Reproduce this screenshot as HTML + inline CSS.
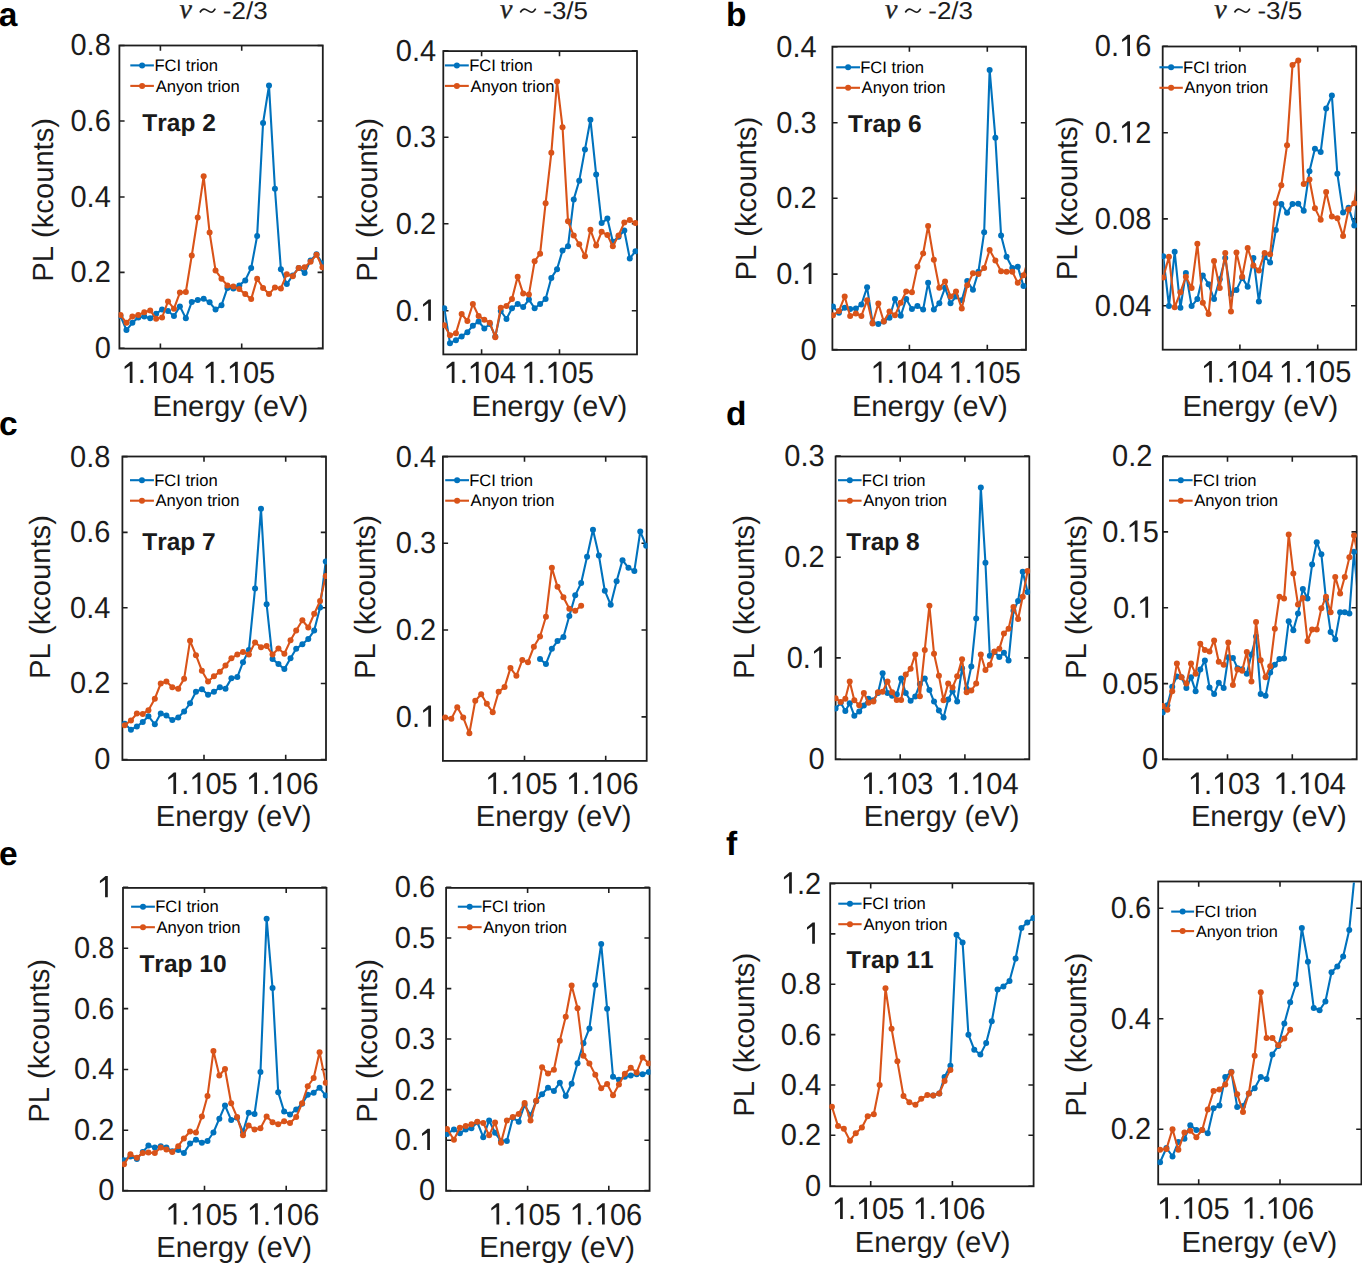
<!DOCTYPE html>
<html><head><meta charset="utf-8"><style>
html,body{margin:0;padding:0;background:#fff;}
svg{display:block;}
text{font-family:"Liberation Sans",sans-serif;fill:#1c1c1c;text-rendering:geometricPrecision;font-kerning:none;}
</style></head><body>
<svg width="1362" height="1264" viewBox="0 0 1362 1264">
<rect width="1362" height="1264" fill="#fff"/>
<clipPath id="caL"><rect x="120.3" y="46.4" width="201.6" height="301.3"/></clipPath>
<clipPath id="mcaL"><rect x="118.5" y="44.6" width="205.2" height="304.9"/></clipPath>
<rect x="119.4" y="45.5" width="203.4" height="303.1" fill="none" stroke="#1e1e1e" stroke-width="1.8"/>
<path d="M119.4 45.5h5.2M322.8 45.5h-5.2" stroke="#1e1e1e" stroke-width="1.6"/>
<text transform="translate(70.45 55.4) scale(1 1.045)" font-size="29">0.8</text>
<path d="M119.4 121h5.2M322.8 121h-5.2" stroke="#1e1e1e" stroke-width="1.6"/>
<text transform="translate(70.45 130.9) scale(1 1.045)" font-size="29">0.6</text>
<path d="M119.4 197h5.2M322.8 197h-5.2" stroke="#1e1e1e" stroke-width="1.6"/>
<text transform="translate(70.45 206.9) scale(1 1.045)" font-size="29">0.4</text>
<path d="M119.4 272.4h5.2M322.8 272.4h-5.2" stroke="#1e1e1e" stroke-width="1.6"/>
<text transform="translate(70.45 282.3) scale(1 1.045)" font-size="29">0.2</text>
<path d="M119.4 348.3h5.2M322.8 348.3h-5.2" stroke="#1e1e1e" stroke-width="1.6"/>
<text transform="translate(94.63 358.2) scale(1 1.045)" font-size="29">0</text>
<path d="M160.4 348.6v-5.2M160.4 45.5v5.2" stroke="#1e1e1e" stroke-width="1.6"/>
<path d="M241.7 348.6v-5.2M241.7 45.5v5.2" stroke="#1e1e1e" stroke-width="1.6"/>
<text transform="translate(121.5 383.1) scale(1 1.045)" font-size="29"> . 04</text><path transform="translate(121.5 383.1) scale(29 -30.305)" d="M0.285 0L0.379 0L0.379 0.703L0.3 0.703L0.107 0.545L0.107 0.463L0.285 0.575Z" style="fill:#1c1c1c"/><path transform="translate(145.68 383.1) scale(29 -30.305)" d="M0.285 0L0.379 0L0.379 0.703L0.3 0.703L0.107 0.545L0.107 0.463L0.285 0.575Z" style="fill:#1c1c1c"/>
<text transform="translate(202.6 383.1) scale(1 1.045)" font-size="29"> . 05</text><path transform="translate(202.6 383.1) scale(29 -30.305)" d="M0.285 0L0.379 0L0.379 0.703L0.3 0.703L0.107 0.545L0.107 0.463L0.285 0.575Z" style="fill:#1c1c1c"/><path transform="translate(226.78 383.1) scale(29 -30.305)" d="M0.285 0L0.379 0L0.379 0.703L0.3 0.703L0.107 0.545L0.107 0.463L0.285 0.575Z" style="fill:#1c1c1c"/>
<polyline clip-path="url(#caL)" points="120.5,316 126.44,330.1 132.38,322.8 138.32,317.4 144.26,316.4 150.2,318.3 156.14,313.7 162.08,309.6 168.02,311 173.96,316 179.9,306.4 185.84,318.3 191.78,301.9 197.72,300.1 203.66,298.7 209.6,302.3 215.54,309.6 221.48,305.3 227.42,287.9 233.36,288.4 239.3,285.4 245.24,280.4 251.18,268 257.12,236.1 263.06,123 269,85.6 274.94,188.7 280.88,269.2 286.82,284.1 292.76,275.4 298.7,268 304.64,272.9 310.58,260.5 316.52,254.3 322.46,263.5" fill="none" stroke="#0072BD" stroke-width="2.1" stroke-linejoin="round"/>
<g clip-path="url(#mcaL)"><circle cx="120.5" cy="316" r="3.0" fill="#0072BD"/><circle cx="126.44" cy="330.1" r="3.0" fill="#0072BD"/><circle cx="132.38" cy="322.8" r="3.0" fill="#0072BD"/><circle cx="138.32" cy="317.4" r="3.0" fill="#0072BD"/><circle cx="144.26" cy="316.4" r="3.0" fill="#0072BD"/><circle cx="150.2" cy="318.3" r="3.0" fill="#0072BD"/><circle cx="156.14" cy="313.7" r="3.0" fill="#0072BD"/><circle cx="162.08" cy="309.6" r="3.0" fill="#0072BD"/><circle cx="168.02" cy="311" r="3.0" fill="#0072BD"/><circle cx="173.96" cy="316" r="3.0" fill="#0072BD"/><circle cx="179.9" cy="306.4" r="3.0" fill="#0072BD"/><circle cx="185.84" cy="318.3" r="3.0" fill="#0072BD"/><circle cx="191.78" cy="301.9" r="3.0" fill="#0072BD"/><circle cx="197.72" cy="300.1" r="3.0" fill="#0072BD"/><circle cx="203.66" cy="298.7" r="3.0" fill="#0072BD"/><circle cx="209.6" cy="302.3" r="3.0" fill="#0072BD"/><circle cx="215.54" cy="309.6" r="3.0" fill="#0072BD"/><circle cx="221.48" cy="305.3" r="3.0" fill="#0072BD"/><circle cx="227.42" cy="287.9" r="3.0" fill="#0072BD"/><circle cx="233.36" cy="288.4" r="3.0" fill="#0072BD"/><circle cx="239.3" cy="285.4" r="3.0" fill="#0072BD"/><circle cx="245.24" cy="280.4" r="3.0" fill="#0072BD"/><circle cx="251.18" cy="268" r="3.0" fill="#0072BD"/><circle cx="257.12" cy="236.1" r="3.0" fill="#0072BD"/><circle cx="263.06" cy="123" r="3.0" fill="#0072BD"/><circle cx="269" cy="85.6" r="3.0" fill="#0072BD"/><circle cx="274.94" cy="188.7" r="3.0" fill="#0072BD"/><circle cx="280.88" cy="269.2" r="3.0" fill="#0072BD"/><circle cx="286.82" cy="284.1" r="3.0" fill="#0072BD"/><circle cx="292.76" cy="275.4" r="3.0" fill="#0072BD"/><circle cx="298.7" cy="268" r="3.0" fill="#0072BD"/><circle cx="304.64" cy="272.9" r="3.0" fill="#0072BD"/><circle cx="310.58" cy="260.5" r="3.0" fill="#0072BD"/><circle cx="316.52" cy="254.3" r="3.0" fill="#0072BD"/><circle cx="322.46" cy="263.5" r="3.0" fill="#0072BD"/></g>
<polyline clip-path="url(#caL)" points="120.5,315.1 126.44,322.8 132.38,316.4 138.32,315.1 144.26,312.3 150.2,310.5 156.14,318.7 162.08,317.5 168.02,301.4 173.96,308.7 179.9,292.6 185.84,291.9 191.78,255.5 197.72,217.4 203.66,176.3 209.6,232.6 215.54,270.4 221.48,278.7 227.42,285.4 233.36,286.6 239.3,289.1 245.24,294.1 251.18,299.1 257.12,278.7 263.06,287.9 269,294.1 274.94,287.4 280.88,288.4 286.82,274.2 292.76,276.2 298.7,268 304.64,267.2 310.58,261.7 316.52,254.7 322.46,267.2" fill="none" stroke="#D95319" stroke-width="2.1" stroke-linejoin="round"/>
<g clip-path="url(#mcaL)"><circle cx="120.5" cy="315.1" r="3.0" fill="#D95319"/><circle cx="126.44" cy="322.8" r="3.0" fill="#D95319"/><circle cx="132.38" cy="316.4" r="3.0" fill="#D95319"/><circle cx="138.32" cy="315.1" r="3.0" fill="#D95319"/><circle cx="144.26" cy="312.3" r="3.0" fill="#D95319"/><circle cx="150.2" cy="310.5" r="3.0" fill="#D95319"/><circle cx="156.14" cy="318.7" r="3.0" fill="#D95319"/><circle cx="162.08" cy="317.5" r="3.0" fill="#D95319"/><circle cx="168.02" cy="301.4" r="3.0" fill="#D95319"/><circle cx="173.96" cy="308.7" r="3.0" fill="#D95319"/><circle cx="179.9" cy="292.6" r="3.0" fill="#D95319"/><circle cx="185.84" cy="291.9" r="3.0" fill="#D95319"/><circle cx="191.78" cy="255.5" r="3.0" fill="#D95319"/><circle cx="197.72" cy="217.4" r="3.0" fill="#D95319"/><circle cx="203.66" cy="176.3" r="3.0" fill="#D95319"/><circle cx="209.6" cy="232.6" r="3.0" fill="#D95319"/><circle cx="215.54" cy="270.4" r="3.0" fill="#D95319"/><circle cx="221.48" cy="278.7" r="3.0" fill="#D95319"/><circle cx="227.42" cy="285.4" r="3.0" fill="#D95319"/><circle cx="233.36" cy="286.6" r="3.0" fill="#D95319"/><circle cx="239.3" cy="289.1" r="3.0" fill="#D95319"/><circle cx="245.24" cy="294.1" r="3.0" fill="#D95319"/><circle cx="251.18" cy="299.1" r="3.0" fill="#D95319"/><circle cx="257.12" cy="278.7" r="3.0" fill="#D95319"/><circle cx="263.06" cy="287.9" r="3.0" fill="#D95319"/><circle cx="269" cy="294.1" r="3.0" fill="#D95319"/><circle cx="274.94" cy="287.4" r="3.0" fill="#D95319"/><circle cx="280.88" cy="288.4" r="3.0" fill="#D95319"/><circle cx="286.82" cy="274.2" r="3.0" fill="#D95319"/><circle cx="292.76" cy="276.2" r="3.0" fill="#D95319"/><circle cx="298.7" cy="268" r="3.0" fill="#D95319"/><circle cx="304.64" cy="267.2" r="3.0" fill="#D95319"/><circle cx="310.58" cy="261.7" r="3.0" fill="#D95319"/><circle cx="316.52" cy="254.7" r="3.0" fill="#D95319"/><circle cx="322.46" cy="267.2" r="3.0" fill="#D95319"/></g>
<line x1="130.3" y1="65.4" x2="153.9" y2="65.4" stroke="#0072BD" stroke-width="2.1"/>
<circle cx="142.1" cy="65.4" r="3.0" fill="#0072BD"/>
<text x="154.44" y="71" font-size="16.6" fill="#000" style="fill:#000">FCI trion</text>
<line x1="130.3" y1="85.9" x2="153.9" y2="85.9" stroke="#D95319" stroke-width="2.1"/>
<circle cx="142.1" cy="85.9" r="3.0" fill="#D95319"/>
<text x="155.77" y="91.5" font-size="16.6" fill="#000" style="fill:#000">Anyon trion</text>
<text x="142.32" y="130.6" font-size="24.5" font-weight="bold" style="fill:#1a1a1a">Trap 2</text>
<text transform="translate(152.4 415.5) scale(1 1.0)" font-size="29.2">Energy (eV)</text>
<text transform="translate(52.5 281.8) rotate(-90) scale(1 1.0)" font-size="29.2">PL (kcounts)</text>
<clipPath id="caR"><rect x="444.2" y="52" width="191.9" height="301.5"/></clipPath>
<clipPath id="mcaR"><rect x="442.4" y="50.2" width="195.5" height="305.1"/></clipPath>
<rect x="443.3" y="51.1" width="193.7" height="303.3" fill="none" stroke="#1e1e1e" stroke-width="1.8"/>
<path d="M443.3 50.7h5.2M637 50.7h-5.2" stroke="#1e1e1e" stroke-width="1.6"/>
<text transform="translate(395.75 60.6) scale(1 1.045)" font-size="29">0.4</text>
<path d="M443.3 137.2h5.2M637 137.2h-5.2" stroke="#1e1e1e" stroke-width="1.6"/>
<text transform="translate(395.75 147.1) scale(1 1.045)" font-size="29">0.3</text>
<path d="M443.3 223.8h5.2M637 223.8h-5.2" stroke="#1e1e1e" stroke-width="1.6"/>
<text transform="translate(395.75 233.7) scale(1 1.045)" font-size="29">0.2</text>
<path d="M443.3 310.8h5.2M637 310.8h-5.2" stroke="#1e1e1e" stroke-width="1.6"/>
<text transform="translate(395.75 320.7) scale(1 1.045)" font-size="29">0. </text><path transform="translate(419.93 320.7) scale(29 -30.305)" d="M0.285 0L0.379 0L0.379 0.703L0.3 0.703L0.107 0.545L0.107 0.463L0.285 0.575Z" style="fill:#1c1c1c"/>
<path d="M481.6 354.4v-5.2M481.6 51.1v5.2" stroke="#1e1e1e" stroke-width="1.6"/>
<path d="M559.5 354.4v-5.2M559.5 51.1v5.2" stroke="#1e1e1e" stroke-width="1.6"/>
<text transform="translate(443.5 383.1) scale(1 1.045)" font-size="29"> . 04</text><path transform="translate(443.5 383.1) scale(29 -30.305)" d="M0.285 0L0.379 0L0.379 0.703L0.3 0.703L0.107 0.545L0.107 0.463L0.285 0.575Z" style="fill:#1c1c1c"/><path transform="translate(467.68 383.1) scale(29 -30.305)" d="M0.285 0L0.379 0L0.379 0.703L0.3 0.703L0.107 0.545L0.107 0.463L0.285 0.575Z" style="fill:#1c1c1c"/>
<text transform="translate(521.3 383.1) scale(1 1.045)" font-size="29"> . 05</text><path transform="translate(521.3 383.1) scale(29 -30.305)" d="M0.285 0L0.379 0L0.379 0.703L0.3 0.703L0.107 0.545L0.107 0.463L0.285 0.575Z" style="fill:#1c1c1c"/><path transform="translate(545.48 383.1) scale(29 -30.305)" d="M0.285 0L0.379 0L0.379 0.703L0.3 0.703L0.107 0.545L0.107 0.463L0.285 0.575Z" style="fill:#1c1c1c"/>
<polyline clip-path="url(#caR)" points="444.23,308.26 449.96,343.13 455.93,340.14 461.66,336.41 467.39,332.17 472.87,325.7 478.6,321.46 484.33,328.44 489.81,323.95 495.29,336.41 500.76,311 506.49,318.97 511.97,308.26 517.7,304.03 523.18,307.02 528.91,299.55 534.64,308.26 540.12,304.03 545.6,299.05 551.33,277.88 557.05,269.16 562.53,250.48 568.01,246.25 573.74,199.42 579.22,180.74 584.95,149.61 590.43,119.72 596.16,174.51 601.64,223.08 607.36,218.6 612.84,241.76 618.57,236.78 624.3,230.55 629.78,258.45 635.51,251.23" fill="none" stroke="#0072BD" stroke-width="2.1" stroke-linejoin="round"/>
<g clip-path="url(#mcaR)"><circle cx="444.23" cy="308.26" r="3.0" fill="#0072BD"/><circle cx="449.96" cy="343.13" r="3.0" fill="#0072BD"/><circle cx="455.93" cy="340.14" r="3.0" fill="#0072BD"/><circle cx="461.66" cy="336.41" r="3.0" fill="#0072BD"/><circle cx="467.39" cy="332.17" r="3.0" fill="#0072BD"/><circle cx="472.87" cy="325.7" r="3.0" fill="#0072BD"/><circle cx="478.6" cy="321.46" r="3.0" fill="#0072BD"/><circle cx="484.33" cy="328.44" r="3.0" fill="#0072BD"/><circle cx="489.81" cy="323.95" r="3.0" fill="#0072BD"/><circle cx="495.29" cy="336.41" r="3.0" fill="#0072BD"/><circle cx="500.76" cy="311" r="3.0" fill="#0072BD"/><circle cx="506.49" cy="318.97" r="3.0" fill="#0072BD"/><circle cx="511.97" cy="308.26" r="3.0" fill="#0072BD"/><circle cx="517.7" cy="304.03" r="3.0" fill="#0072BD"/><circle cx="523.18" cy="307.02" r="3.0" fill="#0072BD"/><circle cx="528.91" cy="299.55" r="3.0" fill="#0072BD"/><circle cx="534.64" cy="308.26" r="3.0" fill="#0072BD"/><circle cx="540.12" cy="304.03" r="3.0" fill="#0072BD"/><circle cx="545.6" cy="299.05" r="3.0" fill="#0072BD"/><circle cx="551.33" cy="277.88" r="3.0" fill="#0072BD"/><circle cx="557.05" cy="269.16" r="3.0" fill="#0072BD"/><circle cx="562.53" cy="250.48" r="3.0" fill="#0072BD"/><circle cx="568.01" cy="246.25" r="3.0" fill="#0072BD"/><circle cx="573.74" cy="199.42" r="3.0" fill="#0072BD"/><circle cx="579.22" cy="180.74" r="3.0" fill="#0072BD"/><circle cx="584.95" cy="149.61" r="3.0" fill="#0072BD"/><circle cx="590.43" cy="119.72" r="3.0" fill="#0072BD"/><circle cx="596.16" cy="174.51" r="3.0" fill="#0072BD"/><circle cx="601.64" cy="223.08" r="3.0" fill="#0072BD"/><circle cx="607.36" cy="218.6" r="3.0" fill="#0072BD"/><circle cx="612.84" cy="241.76" r="3.0" fill="#0072BD"/><circle cx="618.57" cy="236.78" r="3.0" fill="#0072BD"/><circle cx="624.3" cy="230.55" r="3.0" fill="#0072BD"/><circle cx="629.78" cy="258.45" r="3.0" fill="#0072BD"/><circle cx="635.51" cy="251.23" r="3.0" fill="#0072BD"/></g>
<polyline clip-path="url(#caR)" points="444.23,325.2 449.96,335.16 455.93,333.17 461.66,313.99 467.39,320.97 472.87,304.03 478.6,315.98 484.33,319.72 489.81,322.71 495.29,337.15 500.76,307.76 506.49,306.02 511.97,299.05 517.7,276.63 523.18,293.57 528.91,294.56 534.64,261.19 540.12,253.72 545.6,203.16 551.33,152.85 557.05,81.61 562.53,127.19 568.01,221.34 573.74,235.54 579.22,244.25 584.95,256.21 590.43,229.81 596.16,245.5 601.64,231.8 607.36,235.04 612.84,246.25 618.57,235.54 624.3,222.58 629.78,220.09 635.51,223.08" fill="none" stroke="#D95319" stroke-width="2.1" stroke-linejoin="round"/>
<g clip-path="url(#mcaR)"><circle cx="444.23" cy="325.2" r="3.0" fill="#D95319"/><circle cx="449.96" cy="335.16" r="3.0" fill="#D95319"/><circle cx="455.93" cy="333.17" r="3.0" fill="#D95319"/><circle cx="461.66" cy="313.99" r="3.0" fill="#D95319"/><circle cx="467.39" cy="320.97" r="3.0" fill="#D95319"/><circle cx="472.87" cy="304.03" r="3.0" fill="#D95319"/><circle cx="478.6" cy="315.98" r="3.0" fill="#D95319"/><circle cx="484.33" cy="319.72" r="3.0" fill="#D95319"/><circle cx="489.81" cy="322.71" r="3.0" fill="#D95319"/><circle cx="495.29" cy="337.15" r="3.0" fill="#D95319"/><circle cx="500.76" cy="307.76" r="3.0" fill="#D95319"/><circle cx="506.49" cy="306.02" r="3.0" fill="#D95319"/><circle cx="511.97" cy="299.05" r="3.0" fill="#D95319"/><circle cx="517.7" cy="276.63" r="3.0" fill="#D95319"/><circle cx="523.18" cy="293.57" r="3.0" fill="#D95319"/><circle cx="528.91" cy="294.56" r="3.0" fill="#D95319"/><circle cx="534.64" cy="261.19" r="3.0" fill="#D95319"/><circle cx="540.12" cy="253.72" r="3.0" fill="#D95319"/><circle cx="545.6" cy="203.16" r="3.0" fill="#D95319"/><circle cx="551.33" cy="152.85" r="3.0" fill="#D95319"/><circle cx="557.05" cy="81.61" r="3.0" fill="#D95319"/><circle cx="562.53" cy="127.19" r="3.0" fill="#D95319"/><circle cx="568.01" cy="221.34" r="3.0" fill="#D95319"/><circle cx="573.74" cy="235.54" r="3.0" fill="#D95319"/><circle cx="579.22" cy="244.25" r="3.0" fill="#D95319"/><circle cx="584.95" cy="256.21" r="3.0" fill="#D95319"/><circle cx="590.43" cy="229.81" r="3.0" fill="#D95319"/><circle cx="596.16" cy="245.5" r="3.0" fill="#D95319"/><circle cx="601.64" cy="231.8" r="3.0" fill="#D95319"/><circle cx="607.36" cy="235.04" r="3.0" fill="#D95319"/><circle cx="612.84" cy="246.25" r="3.0" fill="#D95319"/><circle cx="618.57" cy="235.54" r="3.0" fill="#D95319"/><circle cx="624.3" cy="222.58" r="3.0" fill="#D95319"/><circle cx="629.78" cy="220.09" r="3.0" fill="#D95319"/><circle cx="635.51" cy="223.08" r="3.0" fill="#D95319"/></g>
<line x1="444.9" y1="65.4" x2="468.8" y2="65.4" stroke="#0072BD" stroke-width="2.1"/>
<circle cx="456.85" cy="65.4" r="3.0" fill="#0072BD"/>
<text x="469.14" y="71" font-size="16.6" fill="#000" style="fill:#000">FCI trion</text>
<line x1="444.9" y1="85.9" x2="468.8" y2="85.9" stroke="#D95319" stroke-width="2.1"/>
<circle cx="456.85" cy="85.9" r="3.0" fill="#D95319"/>
<text x="470.47" y="91.5" font-size="16.6" fill="#000" style="fill:#000">Anyon trion</text>
<text transform="translate(471.6 416.2) scale(1 1.0)" font-size="29.2">Energy (eV)</text>
<text transform="translate(377.4 281.8) rotate(-90) scale(1 1.0)" font-size="29.2">PL (kcounts)</text>
<clipPath id="cbL"><rect x="833.3" y="47.5" width="191.8" height="301.5"/></clipPath>
<clipPath id="mcbL"><rect x="831.5" y="45.7" width="195.4" height="305.1"/></clipPath>
<rect x="832.4" y="46.6" width="193.6" height="303.3" fill="none" stroke="#1e1e1e" stroke-width="1.8"/>
<path d="M832.4 46.7h5.2M1026 46.7h-5.2" stroke="#1e1e1e" stroke-width="1.6"/>
<text transform="translate(776.25 56.6) scale(1 1.045)" font-size="29">0.4</text>
<path d="M832.4 122.7h5.2M1026 122.7h-5.2" stroke="#1e1e1e" stroke-width="1.6"/>
<text transform="translate(776.25 132.6) scale(1 1.045)" font-size="29">0.3</text>
<path d="M832.4 198.2h5.2M1026 198.2h-5.2" stroke="#1e1e1e" stroke-width="1.6"/>
<text transform="translate(776.25 208.1) scale(1 1.045)" font-size="29">0.2</text>
<path d="M832.4 274.1h5.2M1026 274.1h-5.2" stroke="#1e1e1e" stroke-width="1.6"/>
<text transform="translate(776.25 284) scale(1 1.045)" font-size="29">0. </text><path transform="translate(800.43 284) scale(29 -30.305)" d="M0.285 0L0.379 0L0.379 0.703L0.3 0.703L0.107 0.545L0.107 0.463L0.285 0.575Z" style="fill:#1c1c1c"/>
<path d="M832.4 349.6h5.2M1026 349.6h-5.2" stroke="#1e1e1e" stroke-width="1.6"/>
<text transform="translate(800.43 359.5) scale(1 1.045)" font-size="29">0</text>
<path d="M909.4 349.9v-5.2M909.4 46.6v5.2" stroke="#1e1e1e" stroke-width="1.6"/>
<path d="M987.3 349.9v-5.2M987.3 46.6v5.2" stroke="#1e1e1e" stroke-width="1.6"/>
<text transform="translate(870.5 382.8) scale(1 1.045)" font-size="29"> . 04</text><path transform="translate(870.5 382.8) scale(29 -30.305)" d="M0.285 0L0.379 0L0.379 0.703L0.3 0.703L0.107 0.545L0.107 0.463L0.285 0.575Z" style="fill:#1c1c1c"/><path transform="translate(894.68 382.8) scale(29 -30.305)" d="M0.285 0L0.379 0L0.379 0.703L0.3 0.703L0.107 0.545L0.107 0.463L0.285 0.575Z" style="fill:#1c1c1c"/>
<text transform="translate(948.3 382.8) scale(1 1.045)" font-size="29"> . 05</text><path transform="translate(948.3 382.8) scale(29 -30.305)" d="M0.285 0L0.379 0L0.379 0.703L0.3 0.703L0.107 0.545L0.107 0.463L0.285 0.575Z" style="fill:#1c1c1c"/><path transform="translate(972.48 382.8) scale(29 -30.305)" d="M0.285 0L0.379 0L0.379 0.703L0.3 0.703L0.107 0.545L0.107 0.463L0.285 0.575Z" style="fill:#1c1c1c"/>
<polyline clip-path="url(#cbL)" points="832.97,306.5 838.95,312.73 844.68,307.75 850.16,308.99 855.89,308.49 861.37,304.51 867.1,287.32 872.58,322.69 878.3,323.94 883.78,321.44 889.51,317.71 894.99,299.03 900.72,315.72 906.2,299.03 911.93,308.99 917.41,306 923.14,309.49 928.12,282.84 933.85,309.49 939.33,303.26 945.05,287.82 950.53,303.26 956.01,296.54 961.74,300.27 967.22,281.1 972.95,289.81 978.43,271.63 984.16,232.28 989.64,69.89 995.36,137.63 1001.09,235.52 1006.57,256.69 1012.3,267.9 1017.78,266.65 1023.51,286.08" fill="none" stroke="#0072BD" stroke-width="2.1" stroke-linejoin="round"/>
<g clip-path="url(#mcbL)"><circle cx="832.97" cy="306.5" r="3.0" fill="#0072BD"/><circle cx="838.95" cy="312.73" r="3.0" fill="#0072BD"/><circle cx="844.68" cy="307.75" r="3.0" fill="#0072BD"/><circle cx="850.16" cy="308.99" r="3.0" fill="#0072BD"/><circle cx="855.89" cy="308.49" r="3.0" fill="#0072BD"/><circle cx="861.37" cy="304.51" r="3.0" fill="#0072BD"/><circle cx="867.1" cy="287.32" r="3.0" fill="#0072BD"/><circle cx="872.58" cy="322.69" r="3.0" fill="#0072BD"/><circle cx="878.3" cy="323.94" r="3.0" fill="#0072BD"/><circle cx="883.78" cy="321.44" r="3.0" fill="#0072BD"/><circle cx="889.51" cy="317.71" r="3.0" fill="#0072BD"/><circle cx="894.99" cy="299.03" r="3.0" fill="#0072BD"/><circle cx="900.72" cy="315.72" r="3.0" fill="#0072BD"/><circle cx="906.2" cy="299.03" r="3.0" fill="#0072BD"/><circle cx="911.93" cy="308.99" r="3.0" fill="#0072BD"/><circle cx="917.41" cy="306" r="3.0" fill="#0072BD"/><circle cx="923.14" cy="309.49" r="3.0" fill="#0072BD"/><circle cx="928.12" cy="282.84" r="3.0" fill="#0072BD"/><circle cx="933.85" cy="309.49" r="3.0" fill="#0072BD"/><circle cx="939.33" cy="303.26" r="3.0" fill="#0072BD"/><circle cx="945.05" cy="287.82" r="3.0" fill="#0072BD"/><circle cx="950.53" cy="303.26" r="3.0" fill="#0072BD"/><circle cx="956.01" cy="296.54" r="3.0" fill="#0072BD"/><circle cx="961.74" cy="300.27" r="3.0" fill="#0072BD"/><circle cx="967.22" cy="281.1" r="3.0" fill="#0072BD"/><circle cx="972.95" cy="289.81" r="3.0" fill="#0072BD"/><circle cx="978.43" cy="271.63" r="3.0" fill="#0072BD"/><circle cx="984.16" cy="232.28" r="3.0" fill="#0072BD"/><circle cx="989.64" cy="69.89" r="3.0" fill="#0072BD"/><circle cx="995.36" cy="137.63" r="3.0" fill="#0072BD"/><circle cx="1001.09" cy="235.52" r="3.0" fill="#0072BD"/><circle cx="1006.57" cy="256.69" r="3.0" fill="#0072BD"/><circle cx="1012.3" cy="267.9" r="3.0" fill="#0072BD"/><circle cx="1017.78" cy="266.65" r="3.0" fill="#0072BD"/><circle cx="1023.51" cy="286.08" r="3.0" fill="#0072BD"/></g>
<polyline clip-path="url(#cbL)" points="832.97,315.22 838.95,310.98 844.68,296.54 850.16,315.97 855.89,313.47 861.37,315.97 867.1,300.27 872.58,323.44 878.3,303.51 883.78,321.44 889.51,311.48 894.99,315.22 900.72,302.76 906.2,291.56 911.93,292.3 917.41,266.65 923.14,253.45 928.12,226.05 933.85,259.68 939.33,287.82 945.05,281.59 950.53,296.54 956.01,291.56 961.74,308.49 967.22,285.33 972.95,273.37 978.43,274.12 984.16,267.9 989.64,249.96 995.36,260.42 1001.09,271.13 1006.57,271.63 1012.3,271.63 1017.78,282.84 1023.51,275.37 1029.11,256.69" fill="none" stroke="#D95319" stroke-width="2.1" stroke-linejoin="round"/>
<g clip-path="url(#mcbL)"><circle cx="832.97" cy="315.22" r="3.0" fill="#D95319"/><circle cx="838.95" cy="310.98" r="3.0" fill="#D95319"/><circle cx="844.68" cy="296.54" r="3.0" fill="#D95319"/><circle cx="850.16" cy="315.97" r="3.0" fill="#D95319"/><circle cx="855.89" cy="313.47" r="3.0" fill="#D95319"/><circle cx="861.37" cy="315.97" r="3.0" fill="#D95319"/><circle cx="867.1" cy="300.27" r="3.0" fill="#D95319"/><circle cx="872.58" cy="323.44" r="3.0" fill="#D95319"/><circle cx="878.3" cy="303.51" r="3.0" fill="#D95319"/><circle cx="883.78" cy="321.44" r="3.0" fill="#D95319"/><circle cx="889.51" cy="311.48" r="3.0" fill="#D95319"/><circle cx="894.99" cy="315.22" r="3.0" fill="#D95319"/><circle cx="900.72" cy="302.76" r="3.0" fill="#D95319"/><circle cx="906.2" cy="291.56" r="3.0" fill="#D95319"/><circle cx="911.93" cy="292.3" r="3.0" fill="#D95319"/><circle cx="917.41" cy="266.65" r="3.0" fill="#D95319"/><circle cx="923.14" cy="253.45" r="3.0" fill="#D95319"/><circle cx="928.12" cy="226.05" r="3.0" fill="#D95319"/><circle cx="933.85" cy="259.68" r="3.0" fill="#D95319"/><circle cx="939.33" cy="287.82" r="3.0" fill="#D95319"/><circle cx="945.05" cy="281.59" r="3.0" fill="#D95319"/><circle cx="950.53" cy="296.54" r="3.0" fill="#D95319"/><circle cx="956.01" cy="291.56" r="3.0" fill="#D95319"/><circle cx="961.74" cy="308.49" r="3.0" fill="#D95319"/><circle cx="967.22" cy="285.33" r="3.0" fill="#D95319"/><circle cx="972.95" cy="273.37" r="3.0" fill="#D95319"/><circle cx="978.43" cy="274.12" r="3.0" fill="#D95319"/><circle cx="984.16" cy="267.9" r="3.0" fill="#D95319"/><circle cx="989.64" cy="249.96" r="3.0" fill="#D95319"/><circle cx="995.36" cy="260.42" r="3.0" fill="#D95319"/><circle cx="1001.09" cy="271.13" r="3.0" fill="#D95319"/><circle cx="1006.57" cy="271.63" r="3.0" fill="#D95319"/><circle cx="1012.3" cy="271.63" r="3.0" fill="#D95319"/><circle cx="1017.78" cy="282.84" r="3.0" fill="#D95319"/><circle cx="1023.51" cy="275.37" r="3.0" fill="#D95319"/></g>
<line x1="836.2" y1="67.3" x2="860" y2="67.3" stroke="#0072BD" stroke-width="2.1"/>
<circle cx="848.1" cy="67.3" r="3.0" fill="#0072BD"/>
<text x="860.24" y="72.9" font-size="16.6" fill="#000" style="fill:#000">FCI trion</text>
<line x1="836.2" y1="87.8" x2="860" y2="87.8" stroke="#D95319" stroke-width="2.1"/>
<circle cx="848.1" cy="87.8" r="3.0" fill="#D95319"/>
<text x="861.57" y="93.4" font-size="16.6" fill="#000" style="fill:#000">Anyon trion</text>
<text x="848.02" y="131.5" font-size="24.5" font-weight="bold" style="fill:#1a1a1a">Trap 6</text>
<text transform="translate(851.9 415.8) scale(1 1.0)" font-size="29.2">Energy (eV)</text>
<text transform="translate(755.5 280.5) rotate(-90) scale(1 1.0)" font-size="29.2">PL (kcounts)</text>
<clipPath id="cbR"><rect x="1163.6" y="47.4" width="191.7" height="301.4"/></clipPath>
<clipPath id="mcbR"><rect x="1161.8" y="45.6" width="195.3" height="305"/></clipPath>
<rect x="1162.7" y="46.5" width="193.5" height="303.2" fill="none" stroke="#1e1e1e" stroke-width="1.8"/>
<path d="M1162.7 46.2h5.2M1356.2 46.2h-5.2" stroke="#1e1e1e" stroke-width="1.6"/>
<text transform="translate(1094.82 56.1) scale(1 1.045)" font-size="29">0. 6</text><path transform="translate(1119 56.1) scale(29 -30.305)" d="M0.285 0L0.379 0L0.379 0.703L0.3 0.703L0.107 0.545L0.107 0.463L0.285 0.575Z" style="fill:#1c1c1c"/>
<path d="M1162.7 132.7h5.2M1356.2 132.7h-5.2" stroke="#1e1e1e" stroke-width="1.6"/>
<text transform="translate(1094.82 142.6) scale(1 1.045)" font-size="29">0. 2</text><path transform="translate(1119 142.6) scale(29 -30.305)" d="M0.285 0L0.379 0L0.379 0.703L0.3 0.703L0.107 0.545L0.107 0.463L0.285 0.575Z" style="fill:#1c1c1c"/>
<path d="M1162.7 218.9h5.2M1356.2 218.9h-5.2" stroke="#1e1e1e" stroke-width="1.6"/>
<text transform="translate(1094.82 228.8) scale(1 1.045)" font-size="29">0.08</text>
<path d="M1162.7 305.8h5.2M1356.2 305.8h-5.2" stroke="#1e1e1e" stroke-width="1.6"/>
<text transform="translate(1094.82 315.7) scale(1 1.045)" font-size="29">0.04</text>
<path d="M1239.9 349.7v-5.2M1239.9 46.5v5.2" stroke="#1e1e1e" stroke-width="1.6"/>
<path d="M1317.7 349.7v-5.2M1317.7 46.5v5.2" stroke="#1e1e1e" stroke-width="1.6"/>
<text transform="translate(1200.9 382.4) scale(1 1.045)" font-size="29"> . 04</text><path transform="translate(1200.9 382.4) scale(29 -30.305)" d="M0.285 0L0.379 0L0.379 0.703L0.3 0.703L0.107 0.545L0.107 0.463L0.285 0.575Z" style="fill:#1c1c1c"/><path transform="translate(1225.08 382.4) scale(29 -30.305)" d="M0.285 0L0.379 0L0.379 0.703L0.3 0.703L0.107 0.545L0.107 0.463L0.285 0.575Z" style="fill:#1c1c1c"/>
<text transform="translate(1278.8 382.4) scale(1 1.045)" font-size="29"> . 05</text><path transform="translate(1278.8 382.4) scale(29 -30.305)" d="M0.285 0L0.379 0L0.379 0.703L0.3 0.703L0.107 0.545L0.107 0.463L0.285 0.575Z" style="fill:#1c1c1c"/><path transform="translate(1302.98 382.4) scale(29 -30.305)" d="M0.285 0L0.379 0L0.379 0.703L0.3 0.703L0.107 0.545L0.107 0.463L0.285 0.575Z" style="fill:#1c1c1c"/>
<polyline clip-path="url(#cbR)" points="1163.22,256.24 1168.95,306.07 1174.68,251.76 1180.41,307.81 1185.89,272.93 1191.62,306.07 1197.35,299.09 1202.83,275.43 1208.56,284.15 1214.04,299.09 1219.77,279.16 1225.25,257.99 1230.98,294.11 1236.46,289.88 1242.19,277.92 1247.68,286.64 1253.41,257.99 1258.89,301.58 1264.62,256.74 1270.1,262.47 1275.83,230.08 1281.31,203.93 1287.04,212.65 1292.52,203.93 1298.25,203.68 1303.73,210.65 1309.46,171.29 1314.94,148.87 1320.67,152.11 1326.15,108.51 1331.88,95.56 1337.36,173.78 1343.09,212.4 1348.57,207.66 1354.3,225.6 1359.71,171.99" fill="none" stroke="#0072BD" stroke-width="2.1" stroke-linejoin="round"/>
<g clip-path="url(#mcbR)"><circle cx="1163.22" cy="256.24" r="3.0" fill="#0072BD"/><circle cx="1168.95" cy="306.07" r="3.0" fill="#0072BD"/><circle cx="1174.68" cy="251.76" r="3.0" fill="#0072BD"/><circle cx="1180.41" cy="307.81" r="3.0" fill="#0072BD"/><circle cx="1185.89" cy="272.93" r="3.0" fill="#0072BD"/><circle cx="1191.62" cy="306.07" r="3.0" fill="#0072BD"/><circle cx="1197.35" cy="299.09" r="3.0" fill="#0072BD"/><circle cx="1202.83" cy="275.43" r="3.0" fill="#0072BD"/><circle cx="1208.56" cy="284.15" r="3.0" fill="#0072BD"/><circle cx="1214.04" cy="299.09" r="3.0" fill="#0072BD"/><circle cx="1219.77" cy="279.16" r="3.0" fill="#0072BD"/><circle cx="1225.25" cy="257.99" r="3.0" fill="#0072BD"/><circle cx="1230.98" cy="294.11" r="3.0" fill="#0072BD"/><circle cx="1236.46" cy="289.88" r="3.0" fill="#0072BD"/><circle cx="1242.19" cy="277.92" r="3.0" fill="#0072BD"/><circle cx="1247.68" cy="286.64" r="3.0" fill="#0072BD"/><circle cx="1253.41" cy="257.99" r="3.0" fill="#0072BD"/><circle cx="1258.89" cy="301.58" r="3.0" fill="#0072BD"/><circle cx="1264.62" cy="256.74" r="3.0" fill="#0072BD"/><circle cx="1270.1" cy="262.47" r="3.0" fill="#0072BD"/><circle cx="1275.83" cy="230.08" r="3.0" fill="#0072BD"/><circle cx="1281.31" cy="203.93" r="3.0" fill="#0072BD"/><circle cx="1287.04" cy="212.65" r="3.0" fill="#0072BD"/><circle cx="1292.52" cy="203.93" r="3.0" fill="#0072BD"/><circle cx="1298.25" cy="203.68" r="3.0" fill="#0072BD"/><circle cx="1303.73" cy="210.65" r="3.0" fill="#0072BD"/><circle cx="1309.46" cy="171.29" r="3.0" fill="#0072BD"/><circle cx="1314.94" cy="148.87" r="3.0" fill="#0072BD"/><circle cx="1320.67" cy="152.11" r="3.0" fill="#0072BD"/><circle cx="1326.15" cy="108.51" r="3.0" fill="#0072BD"/><circle cx="1331.88" cy="95.56" r="3.0" fill="#0072BD"/><circle cx="1337.36" cy="173.78" r="3.0" fill="#0072BD"/><circle cx="1343.09" cy="212.4" r="3.0" fill="#0072BD"/><circle cx="1348.57" cy="207.66" r="3.0" fill="#0072BD"/><circle cx="1354.3" cy="225.6" r="3.0" fill="#0072BD"/></g>
<polyline clip-path="url(#cbR)" points="1163.22,277.42 1168.95,256.74 1174.68,307.31 1180.41,292.37 1185.89,276.67 1191.62,287.88 1197.35,243.79 1202.83,302.83 1208.56,314.04 1214.04,260.98 1219.77,287.88 1225.25,253 1230.98,311.55 1236.46,252.51 1242.19,276.67 1247.68,248.02 1253.41,265.46 1258.89,270.44 1264.62,253 1270.1,254.25 1275.83,203.18 1281.31,185.24 1287.04,145.13 1292.52,64.91 1298.25,60.43 1303.73,184 1309.46,179.51 1314.94,208.16 1320.67,219.87 1326.15,191.97 1331.88,216.38 1337.36,218.13 1343.09,236.06 1348.57,209.41 1354.3,203.18 1359.41,165.01" fill="none" stroke="#D95319" stroke-width="2.1" stroke-linejoin="round"/>
<g clip-path="url(#mcbR)"><circle cx="1163.22" cy="277.42" r="3.0" fill="#D95319"/><circle cx="1168.95" cy="256.74" r="3.0" fill="#D95319"/><circle cx="1174.68" cy="307.31" r="3.0" fill="#D95319"/><circle cx="1180.41" cy="292.37" r="3.0" fill="#D95319"/><circle cx="1185.89" cy="276.67" r="3.0" fill="#D95319"/><circle cx="1191.62" cy="287.88" r="3.0" fill="#D95319"/><circle cx="1197.35" cy="243.79" r="3.0" fill="#D95319"/><circle cx="1202.83" cy="302.83" r="3.0" fill="#D95319"/><circle cx="1208.56" cy="314.04" r="3.0" fill="#D95319"/><circle cx="1214.04" cy="260.98" r="3.0" fill="#D95319"/><circle cx="1219.77" cy="287.88" r="3.0" fill="#D95319"/><circle cx="1225.25" cy="253" r="3.0" fill="#D95319"/><circle cx="1230.98" cy="311.55" r="3.0" fill="#D95319"/><circle cx="1236.46" cy="252.51" r="3.0" fill="#D95319"/><circle cx="1242.19" cy="276.67" r="3.0" fill="#D95319"/><circle cx="1247.68" cy="248.02" r="3.0" fill="#D95319"/><circle cx="1253.41" cy="265.46" r="3.0" fill="#D95319"/><circle cx="1258.89" cy="270.44" r="3.0" fill="#D95319"/><circle cx="1264.62" cy="253" r="3.0" fill="#D95319"/><circle cx="1270.1" cy="254.25" r="3.0" fill="#D95319"/><circle cx="1275.83" cy="203.18" r="3.0" fill="#D95319"/><circle cx="1281.31" cy="185.24" r="3.0" fill="#D95319"/><circle cx="1287.04" cy="145.13" r="3.0" fill="#D95319"/><circle cx="1292.52" cy="64.91" r="3.0" fill="#D95319"/><circle cx="1298.25" cy="60.43" r="3.0" fill="#D95319"/><circle cx="1303.73" cy="184" r="3.0" fill="#D95319"/><circle cx="1309.46" cy="179.51" r="3.0" fill="#D95319"/><circle cx="1314.94" cy="208.16" r="3.0" fill="#D95319"/><circle cx="1320.67" cy="219.87" r="3.0" fill="#D95319"/><circle cx="1326.15" cy="191.97" r="3.0" fill="#D95319"/><circle cx="1331.88" cy="216.38" r="3.0" fill="#D95319"/><circle cx="1337.36" cy="218.13" r="3.0" fill="#D95319"/><circle cx="1343.09" cy="236.06" r="3.0" fill="#D95319"/><circle cx="1348.57" cy="209.41" r="3.0" fill="#D95319"/><circle cx="1354.3" cy="203.18" r="3.0" fill="#D95319"/></g>
<line x1="1159.4" y1="67.3" x2="1182.8" y2="67.3" stroke="#0072BD" stroke-width="2.1"/>
<circle cx="1171.1" cy="67.3" r="3.0" fill="#0072BD"/>
<text x="1183.04" y="72.9" font-size="16.6" fill="#000" style="fill:#000">FCI trion</text>
<line x1="1159.4" y1="87.8" x2="1182.8" y2="87.8" stroke="#D95319" stroke-width="2.1"/>
<circle cx="1171.1" cy="87.8" r="3.0" fill="#D95319"/>
<text x="1184.37" y="93.4" font-size="16.6" fill="#000" style="fill:#000">Anyon trion</text>
<text transform="translate(1182.4 415.8) scale(1 1.0)" font-size="29.2">Energy (eV)</text>
<text transform="translate(1076.7 280.3) rotate(-90) scale(1 1.0)" font-size="29.2">PL (kcounts)</text>
<clipPath id="ccL"><rect x="123.3" y="457.4" width="201.8" height="301.7"/></clipPath>
<clipPath id="mccL"><rect x="121.5" y="455.6" width="205.4" height="305.3"/></clipPath>
<rect x="122.4" y="456.5" width="203.6" height="303.5" fill="none" stroke="#1e1e1e" stroke-width="1.8"/>
<path d="M122.4 456.6h5.2M326 456.6h-5.2" stroke="#1e1e1e" stroke-width="1.6"/>
<text transform="translate(70.05 466.5) scale(1 1.045)" font-size="29">0.8</text>
<path d="M122.4 532.4h5.2M326 532.4h-5.2" stroke="#1e1e1e" stroke-width="1.6"/>
<text transform="translate(70.05 542.3) scale(1 1.045)" font-size="29">0.6</text>
<path d="M122.4 607.7h5.2M326 607.7h-5.2" stroke="#1e1e1e" stroke-width="1.6"/>
<text transform="translate(70.05 617.6) scale(1 1.045)" font-size="29">0.4</text>
<path d="M122.4 683.5h5.2M326 683.5h-5.2" stroke="#1e1e1e" stroke-width="1.6"/>
<text transform="translate(70.05 693.4) scale(1 1.045)" font-size="29">0.2</text>
<path d="M122.4 759.5h5.2M326 759.5h-5.2" stroke="#1e1e1e" stroke-width="1.6"/>
<text transform="translate(94.23 769.4) scale(1 1.045)" font-size="29">0</text>
<path d="M204 760v-5.2M204 456.5v5.2" stroke="#1e1e1e" stroke-width="1.6"/>
<path d="M285.7 760v-5.2M285.7 456.5v5.2" stroke="#1e1e1e" stroke-width="1.6"/>
<text transform="translate(165.1 793.9) scale(1 1.045)" font-size="29"> . 05</text><path transform="translate(165.1 793.9) scale(29 -30.305)" d="M0.285 0L0.379 0L0.379 0.703L0.3 0.703L0.107 0.545L0.107 0.463L0.285 0.575Z" style="fill:#1c1c1c"/><path transform="translate(189.28 793.9) scale(29 -30.305)" d="M0.285 0L0.379 0L0.379 0.703L0.3 0.703L0.107 0.545L0.107 0.463L0.285 0.575Z" style="fill:#1c1c1c"/>
<text transform="translate(246 793.9) scale(1 1.045)" font-size="29"> . 06</text><path transform="translate(246 793.9) scale(29 -30.305)" d="M0.285 0L0.379 0L0.379 0.703L0.3 0.703L0.107 0.545L0.107 0.463L0.285 0.575Z" style="fill:#1c1c1c"/><path transform="translate(270.18 793.9) scale(29 -30.305)" d="M0.285 0L0.379 0L0.379 0.703L0.3 0.703L0.107 0.545L0.107 0.463L0.285 0.575Z" style="fill:#1c1c1c"/>
<polyline clip-path="url(#ccL)" points="124.77,723.85 130.93,729.76 136.85,726.42 142.76,722.05 148.41,716.14 154.84,724.36 160.75,713.57 166.4,715.62 172.31,719.99 178.22,717.42 184.13,711.51 190.04,703.29 195.96,691.72 201.87,689.15 208.04,694.81 213.95,691.72 219.86,687.35 225.51,688.64 231.42,678.36 237.33,677.07 242.99,662.17 248.9,650.09 255.07,588.41 260.98,508.74 266.63,604.34 272.54,659.08 278.45,663.97 284.37,669.11 290.53,658.31 296.19,648.8 302.36,644.18 308.27,639.04 314.18,630.56 320.09,607.43 325.74,561.42" fill="none" stroke="#0072BD" stroke-width="2.1" stroke-linejoin="round"/>
<g clip-path="url(#mccL)"><circle cx="124.77" cy="723.85" r="3.0" fill="#0072BD"/><circle cx="130.93" cy="729.76" r="3.0" fill="#0072BD"/><circle cx="136.85" cy="726.42" r="3.0" fill="#0072BD"/><circle cx="142.76" cy="722.05" r="3.0" fill="#0072BD"/><circle cx="148.41" cy="716.14" r="3.0" fill="#0072BD"/><circle cx="154.84" cy="724.36" r="3.0" fill="#0072BD"/><circle cx="160.75" cy="713.57" r="3.0" fill="#0072BD"/><circle cx="166.4" cy="715.62" r="3.0" fill="#0072BD"/><circle cx="172.31" cy="719.99" r="3.0" fill="#0072BD"/><circle cx="178.22" cy="717.42" r="3.0" fill="#0072BD"/><circle cx="184.13" cy="711.51" r="3.0" fill="#0072BD"/><circle cx="190.04" cy="703.29" r="3.0" fill="#0072BD"/><circle cx="195.96" cy="691.72" r="3.0" fill="#0072BD"/><circle cx="201.87" cy="689.15" r="3.0" fill="#0072BD"/><circle cx="208.04" cy="694.81" r="3.0" fill="#0072BD"/><circle cx="213.95" cy="691.72" r="3.0" fill="#0072BD"/><circle cx="219.86" cy="687.35" r="3.0" fill="#0072BD"/><circle cx="225.51" cy="688.64" r="3.0" fill="#0072BD"/><circle cx="231.42" cy="678.36" r="3.0" fill="#0072BD"/><circle cx="237.33" cy="677.07" r="3.0" fill="#0072BD"/><circle cx="242.99" cy="662.17" r="3.0" fill="#0072BD"/><circle cx="248.9" cy="650.09" r="3.0" fill="#0072BD"/><circle cx="255.07" cy="588.41" r="3.0" fill="#0072BD"/><circle cx="260.98" cy="508.74" r="3.0" fill="#0072BD"/><circle cx="266.63" cy="604.34" r="3.0" fill="#0072BD"/><circle cx="272.54" cy="659.08" r="3.0" fill="#0072BD"/><circle cx="278.45" cy="663.97" r="3.0" fill="#0072BD"/><circle cx="284.37" cy="669.11" r="3.0" fill="#0072BD"/><circle cx="290.53" cy="658.31" r="3.0" fill="#0072BD"/><circle cx="296.19" cy="648.8" r="3.0" fill="#0072BD"/><circle cx="302.36" cy="644.18" r="3.0" fill="#0072BD"/><circle cx="308.27" cy="639.04" r="3.0" fill="#0072BD"/><circle cx="314.18" cy="630.56" r="3.0" fill="#0072BD"/><circle cx="320.09" cy="607.43" r="3.0" fill="#0072BD"/><circle cx="325.74" cy="561.42" r="3.0" fill="#0072BD"/></g>
<polyline clip-path="url(#ccL)" points="124.77,725.13 130.93,720.51 136.85,713.57 142.76,714.08 148.41,710.23 154.84,698.66 160.75,683.5 166.4,681.44 172.31,687.35 178.22,688.64 184.13,678.87 190.04,640.84 195.96,655.23 201.87,670.65 208.04,681.44 213.95,676.3 219.86,671.68 225.51,665.51 231.42,658.31 237.33,654.46 242.99,651.89 248.9,654.46 255.07,642.38 260.98,647.26 266.63,645.98 272.54,654.46 278.45,648.55 284.37,653.69 290.53,640.32 296.19,630.56 302.36,620.28 308.27,627.47 314.18,613.85 320.09,601 325.74,576.07" fill="none" stroke="#D95319" stroke-width="2.1" stroke-linejoin="round"/>
<g clip-path="url(#mccL)"><circle cx="124.77" cy="725.13" r="3.0" fill="#D95319"/><circle cx="130.93" cy="720.51" r="3.0" fill="#D95319"/><circle cx="136.85" cy="713.57" r="3.0" fill="#D95319"/><circle cx="142.76" cy="714.08" r="3.0" fill="#D95319"/><circle cx="148.41" cy="710.23" r="3.0" fill="#D95319"/><circle cx="154.84" cy="698.66" r="3.0" fill="#D95319"/><circle cx="160.75" cy="683.5" r="3.0" fill="#D95319"/><circle cx="166.4" cy="681.44" r="3.0" fill="#D95319"/><circle cx="172.31" cy="687.35" r="3.0" fill="#D95319"/><circle cx="178.22" cy="688.64" r="3.0" fill="#D95319"/><circle cx="184.13" cy="678.87" r="3.0" fill="#D95319"/><circle cx="190.04" cy="640.84" r="3.0" fill="#D95319"/><circle cx="195.96" cy="655.23" r="3.0" fill="#D95319"/><circle cx="201.87" cy="670.65" r="3.0" fill="#D95319"/><circle cx="208.04" cy="681.44" r="3.0" fill="#D95319"/><circle cx="213.95" cy="676.3" r="3.0" fill="#D95319"/><circle cx="219.86" cy="671.68" r="3.0" fill="#D95319"/><circle cx="225.51" cy="665.51" r="3.0" fill="#D95319"/><circle cx="231.42" cy="658.31" r="3.0" fill="#D95319"/><circle cx="237.33" cy="654.46" r="3.0" fill="#D95319"/><circle cx="242.99" cy="651.89" r="3.0" fill="#D95319"/><circle cx="248.9" cy="654.46" r="3.0" fill="#D95319"/><circle cx="255.07" cy="642.38" r="3.0" fill="#D95319"/><circle cx="260.98" cy="647.26" r="3.0" fill="#D95319"/><circle cx="266.63" cy="645.98" r="3.0" fill="#D95319"/><circle cx="272.54" cy="654.46" r="3.0" fill="#D95319"/><circle cx="278.45" cy="648.55" r="3.0" fill="#D95319"/><circle cx="284.37" cy="653.69" r="3.0" fill="#D95319"/><circle cx="290.53" cy="640.32" r="3.0" fill="#D95319"/><circle cx="296.19" cy="630.56" r="3.0" fill="#D95319"/><circle cx="302.36" cy="620.28" r="3.0" fill="#D95319"/><circle cx="308.27" cy="627.47" r="3.0" fill="#D95319"/><circle cx="314.18" cy="613.85" r="3.0" fill="#D95319"/><circle cx="320.09" cy="601" r="3.0" fill="#D95319"/><circle cx="325.74" cy="576.07" r="3.0" fill="#D95319"/></g>
<line x1="130" y1="480.2" x2="153.9" y2="480.2" stroke="#0072BD" stroke-width="2.1"/>
<circle cx="141.95" cy="480.2" r="3.0" fill="#0072BD"/>
<text x="154.14" y="485.8" font-size="16.6" fill="#000" style="fill:#000">FCI trion</text>
<line x1="130" y1="500.7" x2="153.9" y2="500.7" stroke="#D95319" stroke-width="2.1"/>
<circle cx="141.95" cy="500.7" r="3.0" fill="#D95319"/>
<text x="155.47" y="506.3" font-size="16.6" fill="#000" style="fill:#000">Anyon trion</text>
<text x="142.22" y="549.5" font-size="24.5" font-weight="bold" style="fill:#1a1a1a">Trap 7</text>
<text transform="translate(155.8 825.8) scale(1 1.0)" font-size="29.2">Energy (eV)</text>
<text transform="translate(49.7 678.9) rotate(-90) scale(1 1.0)" font-size="29.2">PL (kcounts)</text>
<clipPath id="ccR"><rect x="443.8" y="457.4" width="202" height="302.6"/></clipPath>
<clipPath id="mccR"><rect x="442" y="455.6" width="205.6" height="306.2"/></clipPath>
<rect x="442.9" y="456.5" width="203.8" height="304.4" fill="none" stroke="#1e1e1e" stroke-width="1.8"/>
<path d="M442.9 456.6h5.2M646.7 456.6h-5.2" stroke="#1e1e1e" stroke-width="1.6"/>
<text transform="translate(395.85 466.5) scale(1 1.045)" font-size="29">0.4</text>
<path d="M442.9 543.2h5.2M646.7 543.2h-5.2" stroke="#1e1e1e" stroke-width="1.6"/>
<text transform="translate(395.85 553.1) scale(1 1.045)" font-size="29">0.3</text>
<path d="M442.9 630h5.2M646.7 630h-5.2" stroke="#1e1e1e" stroke-width="1.6"/>
<text transform="translate(395.85 639.9) scale(1 1.045)" font-size="29">0.2</text>
<path d="M442.9 716.9h5.2M646.7 716.9h-5.2" stroke="#1e1e1e" stroke-width="1.6"/>
<text transform="translate(395.85 726.8) scale(1 1.045)" font-size="29">0. </text><path transform="translate(420.03 726.8) scale(29 -30.305)" d="M0.285 0L0.379 0L0.379 0.703L0.3 0.703L0.107 0.545L0.107 0.463L0.285 0.575Z" style="fill:#1c1c1c"/>
<path d="M524.5 760.9v-5.2M524.5 456.5v5.2" stroke="#1e1e1e" stroke-width="1.6"/>
<path d="M605.7 760.9v-5.2M605.7 456.5v5.2" stroke="#1e1e1e" stroke-width="1.6"/>
<text transform="translate(485.1 793.9) scale(1 1.045)" font-size="29"> . 05</text><path transform="translate(485.1 793.9) scale(29 -30.305)" d="M0.285 0L0.379 0L0.379 0.703L0.3 0.703L0.107 0.545L0.107 0.463L0.285 0.575Z" style="fill:#1c1c1c"/><path transform="translate(509.28 793.9) scale(29 -30.305)" d="M0.285 0L0.379 0L0.379 0.703L0.3 0.703L0.107 0.545L0.107 0.463L0.285 0.575Z" style="fill:#1c1c1c"/>
<text transform="translate(566 793.9) scale(1 1.045)" font-size="29"> . 06</text><path transform="translate(566 793.9) scale(29 -30.305)" d="M0.285 0L0.379 0L0.379 0.703L0.3 0.703L0.107 0.545L0.107 0.463L0.285 0.575Z" style="fill:#1c1c1c"/><path transform="translate(590.18 793.9) scale(29 -30.305)" d="M0.285 0L0.379 0L0.379 0.703L0.3 0.703L0.107 0.545L0.107 0.463L0.285 0.575Z" style="fill:#1c1c1c"/>
<polyline clip-path="url(#ccR)" points="540.03,659.08 545.94,663.97 551.85,648.8 557.51,641.09 563.42,636.98 569.33,615.91 575.24,595.35 581.15,583.01 587.06,556.8 592.97,529.81 598.88,555.51 604.8,590.72 610.71,604.86 616.62,581.21 622.53,560.14 628.44,567.85 634.35,570.93 640.26,531.61 646.17,545.75" fill="none" stroke="#0072BD" stroke-width="2.1" stroke-linejoin="round"/>
<g clip-path="url(#mccR)"><circle cx="540.03" cy="659.08" r="3.0" fill="#0072BD"/><circle cx="545.94" cy="663.97" r="3.0" fill="#0072BD"/><circle cx="551.85" cy="648.8" r="3.0" fill="#0072BD"/><circle cx="557.51" cy="641.09" r="3.0" fill="#0072BD"/><circle cx="563.42" cy="636.98" r="3.0" fill="#0072BD"/><circle cx="569.33" cy="615.91" r="3.0" fill="#0072BD"/><circle cx="575.24" cy="595.35" r="3.0" fill="#0072BD"/><circle cx="581.15" cy="583.01" r="3.0" fill="#0072BD"/><circle cx="587.06" cy="556.8" r="3.0" fill="#0072BD"/><circle cx="592.97" cy="529.81" r="3.0" fill="#0072BD"/><circle cx="598.88" cy="555.51" r="3.0" fill="#0072BD"/><circle cx="604.8" cy="590.72" r="3.0" fill="#0072BD"/><circle cx="610.71" cy="604.86" r="3.0" fill="#0072BD"/><circle cx="616.62" cy="581.21" r="3.0" fill="#0072BD"/><circle cx="622.53" cy="560.14" r="3.0" fill="#0072BD"/><circle cx="628.44" cy="567.85" r="3.0" fill="#0072BD"/><circle cx="634.35" cy="570.93" r="3.0" fill="#0072BD"/><circle cx="640.26" cy="531.61" r="3.0" fill="#0072BD"/><circle cx="646.17" cy="545.75" r="3.0" fill="#0072BD"/></g>
<polyline clip-path="url(#ccR)" points="445.2,717.42 451.36,718.71 457.28,707.14 463.19,717.42 469.35,733.36 475.27,700.72 481.18,694.29 486.83,703.8 492.74,712.28 498.65,691.72 504.56,687.1 510.47,668.08 516.39,675.79 522.3,660.11 527.95,662.17 533.86,646.75 540.03,636.47 545.94,616.68 551.85,567.85 557.51,586.87 563.42,597.15 569.33,608.71 575.24,610.77 581.15,605.63" fill="none" stroke="#D95319" stroke-width="2.1" stroke-linejoin="round"/>
<g clip-path="url(#mccR)"><circle cx="445.2" cy="717.42" r="3.0" fill="#D95319"/><circle cx="451.36" cy="718.71" r="3.0" fill="#D95319"/><circle cx="457.28" cy="707.14" r="3.0" fill="#D95319"/><circle cx="463.19" cy="717.42" r="3.0" fill="#D95319"/><circle cx="469.35" cy="733.36" r="3.0" fill="#D95319"/><circle cx="475.27" cy="700.72" r="3.0" fill="#D95319"/><circle cx="481.18" cy="694.29" r="3.0" fill="#D95319"/><circle cx="486.83" cy="703.8" r="3.0" fill="#D95319"/><circle cx="492.74" cy="712.28" r="3.0" fill="#D95319"/><circle cx="498.65" cy="691.72" r="3.0" fill="#D95319"/><circle cx="504.56" cy="687.1" r="3.0" fill="#D95319"/><circle cx="510.47" cy="668.08" r="3.0" fill="#D95319"/><circle cx="516.39" cy="675.79" r="3.0" fill="#D95319"/><circle cx="522.3" cy="660.11" r="3.0" fill="#D95319"/><circle cx="527.95" cy="662.17" r="3.0" fill="#D95319"/><circle cx="533.86" cy="646.75" r="3.0" fill="#D95319"/><circle cx="540.03" cy="636.47" r="3.0" fill="#D95319"/><circle cx="545.94" cy="616.68" r="3.0" fill="#D95319"/><circle cx="551.85" cy="567.85" r="3.0" fill="#D95319"/><circle cx="557.51" cy="586.87" r="3.0" fill="#D95319"/><circle cx="563.42" cy="597.15" r="3.0" fill="#D95319"/><circle cx="569.33" cy="608.71" r="3.0" fill="#D95319"/><circle cx="575.24" cy="610.77" r="3.0" fill="#D95319"/><circle cx="581.15" cy="605.63" r="3.0" fill="#D95319"/></g>
<line x1="445.2" y1="480.2" x2="469" y2="480.2" stroke="#0072BD" stroke-width="2.1"/>
<circle cx="457.1" cy="480.2" r="3.0" fill="#0072BD"/>
<text x="469.24" y="485.8" font-size="16.6" fill="#000" style="fill:#000">FCI trion</text>
<line x1="445.2" y1="500.7" x2="469" y2="500.7" stroke="#D95319" stroke-width="2.1"/>
<circle cx="457.1" cy="500.7" r="3.0" fill="#D95319"/>
<text x="470.57" y="506.3" font-size="16.6" fill="#000" style="fill:#000">Anyon trion</text>
<text transform="translate(475.8 825.8) scale(1 1.0)" font-size="29.2">Energy (eV)</text>
<text transform="translate(375.2 678.9) rotate(-90) scale(1 1.0)" font-size="29.2">PL (kcounts)</text>
<clipPath id="cdL"><rect x="836.5" y="457.4" width="191.9" height="301.1"/></clipPath>
<clipPath id="mcdL"><rect x="834.7" y="455.6" width="195.5" height="304.7"/></clipPath>
<rect x="835.6" y="456.5" width="193.7" height="302.9" fill="none" stroke="#1e1e1e" stroke-width="1.8"/>
<path d="M835.6 456h5.2M1029.3 456h-5.2" stroke="#1e1e1e" stroke-width="1.6"/>
<text transform="translate(784.25 465.9) scale(1 1.045)" font-size="29">0.3</text>
<path d="M835.6 557.3h5.2M1029.3 557.3h-5.2" stroke="#1e1e1e" stroke-width="1.6"/>
<text transform="translate(784.25 567.2) scale(1 1.045)" font-size="29">0.2</text>
<path d="M835.6 657.9h5.2M1029.3 657.9h-5.2" stroke="#1e1e1e" stroke-width="1.6"/>
<text transform="translate(786.72 667.8) scale(1 1.045)" font-size="29">0. </text><path transform="translate(810.91 667.8) scale(29 -30.305)" d="M0.285 0L0.379 0L0.379 0.703L0.3 0.703L0.107 0.545L0.107 0.463L0.285 0.575Z" style="fill:#1c1c1c"/>
<path d="M835.6 759.2h5.2M1029.3 759.2h-5.2" stroke="#1e1e1e" stroke-width="1.6"/>
<text transform="translate(808.43 769.1) scale(1 1.045)" font-size="29">0</text>
<path d="M900.2 759.4v-5.2M900.2 456.5v5.2" stroke="#1e1e1e" stroke-width="1.6"/>
<path d="M964.9 759.4v-5.2M964.9 456.5v5.2" stroke="#1e1e1e" stroke-width="1.6"/>
<text transform="translate(860.9 793.9) scale(1 1.045)" font-size="29"> . 03</text><path transform="translate(860.9 793.9) scale(29 -30.305)" d="M0.285 0L0.379 0L0.379 0.703L0.3 0.703L0.107 0.545L0.107 0.463L0.285 0.575Z" style="fill:#1c1c1c"/><path transform="translate(885.08 793.9) scale(29 -30.305)" d="M0.285 0L0.379 0L0.379 0.703L0.3 0.703L0.107 0.545L0.107 0.463L0.285 0.575Z" style="fill:#1c1c1c"/>
<text transform="translate(946 793.9) scale(1 1.045)" font-size="29"> . 04</text><path transform="translate(946 793.9) scale(29 -30.305)" d="M0.285 0L0.379 0L0.379 0.703L0.3 0.703L0.107 0.545L0.107 0.463L0.285 0.575Z" style="fill:#1c1c1c"/><path transform="translate(970.18 793.9) scale(29 -30.305)" d="M0.285 0L0.379 0L0.379 0.703L0.3 0.703L0.107 0.545L0.107 0.463L0.285 0.575Z" style="fill:#1c1c1c"/>
<polyline clip-path="url(#cdL)" points="835.57,708.5 840.71,702.84 845.34,711.07 849.71,703.35 854.33,715.69 859.22,711.58 863.85,705.41 868.47,698.73 873.36,700.27 877.98,693.07 882.61,673.28 887.5,693.07 892.12,695.64 896.75,694.36 901.12,678.42 905.75,693.07 910.63,700.78 915.26,696.41 919.89,684.07 924.77,678.42 929.4,689.99 934.03,701.56 938.91,710.55 943.54,717.49 948.16,699.5 952.53,691.27 957.16,701.56 962.05,668.14 966.67,688.7 971.3,666.59 976.19,618.52 980.81,487.42 985.44,562.74 989.81,655.8 994.44,651.94 999.32,657.08 1003.95,652.71 1008.58,660.42 1013.46,610.81 1018.09,601.04 1022.71,571.74 1027.6,592.04" fill="none" stroke="#0072BD" stroke-width="2.1" stroke-linejoin="round"/>
<g clip-path="url(#mcdL)"><circle cx="835.57" cy="708.5" r="3.0" fill="#0072BD"/><circle cx="840.71" cy="702.84" r="3.0" fill="#0072BD"/><circle cx="845.34" cy="711.07" r="3.0" fill="#0072BD"/><circle cx="849.71" cy="703.35" r="3.0" fill="#0072BD"/><circle cx="854.33" cy="715.69" r="3.0" fill="#0072BD"/><circle cx="859.22" cy="711.58" r="3.0" fill="#0072BD"/><circle cx="863.85" cy="705.41" r="3.0" fill="#0072BD"/><circle cx="868.47" cy="698.73" r="3.0" fill="#0072BD"/><circle cx="873.36" cy="700.27" r="3.0" fill="#0072BD"/><circle cx="877.98" cy="693.07" r="3.0" fill="#0072BD"/><circle cx="882.61" cy="673.28" r="3.0" fill="#0072BD"/><circle cx="887.5" cy="693.07" r="3.0" fill="#0072BD"/><circle cx="892.12" cy="695.64" r="3.0" fill="#0072BD"/><circle cx="896.75" cy="694.36" r="3.0" fill="#0072BD"/><circle cx="901.12" cy="678.42" r="3.0" fill="#0072BD"/><circle cx="905.75" cy="693.07" r="3.0" fill="#0072BD"/><circle cx="910.63" cy="700.78" r="3.0" fill="#0072BD"/><circle cx="915.26" cy="696.41" r="3.0" fill="#0072BD"/><circle cx="919.89" cy="684.07" r="3.0" fill="#0072BD"/><circle cx="924.77" cy="678.42" r="3.0" fill="#0072BD"/><circle cx="929.4" cy="689.99" r="3.0" fill="#0072BD"/><circle cx="934.03" cy="701.56" r="3.0" fill="#0072BD"/><circle cx="938.91" cy="710.55" r="3.0" fill="#0072BD"/><circle cx="943.54" cy="717.49" r="3.0" fill="#0072BD"/><circle cx="948.16" cy="699.5" r="3.0" fill="#0072BD"/><circle cx="952.53" cy="691.27" r="3.0" fill="#0072BD"/><circle cx="957.16" cy="701.56" r="3.0" fill="#0072BD"/><circle cx="962.05" cy="668.14" r="3.0" fill="#0072BD"/><circle cx="966.67" cy="688.7" r="3.0" fill="#0072BD"/><circle cx="971.3" cy="666.59" r="3.0" fill="#0072BD"/><circle cx="976.19" cy="618.52" r="3.0" fill="#0072BD"/><circle cx="980.81" cy="487.42" r="3.0" fill="#0072BD"/><circle cx="985.44" cy="562.74" r="3.0" fill="#0072BD"/><circle cx="989.81" cy="655.8" r="3.0" fill="#0072BD"/><circle cx="994.44" cy="651.94" r="3.0" fill="#0072BD"/><circle cx="999.32" cy="657.08" r="3.0" fill="#0072BD"/><circle cx="1003.95" cy="652.71" r="3.0" fill="#0072BD"/><circle cx="1008.58" cy="660.42" r="3.0" fill="#0072BD"/><circle cx="1013.46" cy="610.81" r="3.0" fill="#0072BD"/><circle cx="1018.09" cy="601.04" r="3.0" fill="#0072BD"/><circle cx="1022.71" cy="571.74" r="3.0" fill="#0072BD"/><circle cx="1027.6" cy="592.04" r="3.0" fill="#0072BD"/></g>
<polyline clip-path="url(#cdL)" points="835.57,698.21 840.71,702.07 845.34,698.73 849.71,681.5 854.33,700.27 859.22,705.15 863.85,693.07 868.47,702.84 873.36,701.56 877.98,692.3 882.61,691.79 887.5,681.5 892.12,692.3 896.75,700.01 901.12,700.01 905.75,674.56 910.63,668.65 915.26,654.51 919.89,696.16 924.77,649.88 929.4,605.67 934.03,653.74 938.91,675.85 943.54,700.27 948.16,683.56 952.53,687.42 957.16,676.36 962.05,659.14 966.67,692.3 971.3,690.5 976.19,683.56 980.81,654.51 985.44,669.94 989.81,664.79 994.44,651.43 999.32,648.86 1003.95,633.43 1008.58,628.8 1013.46,606.95 1018.09,619.04 1022.71,596.67 1027.6,570.96" fill="none" stroke="#D95319" stroke-width="2.1" stroke-linejoin="round"/>
<g clip-path="url(#mcdL)"><circle cx="835.57" cy="698.21" r="3.0" fill="#D95319"/><circle cx="840.71" cy="702.07" r="3.0" fill="#D95319"/><circle cx="845.34" cy="698.73" r="3.0" fill="#D95319"/><circle cx="849.71" cy="681.5" r="3.0" fill="#D95319"/><circle cx="854.33" cy="700.27" r="3.0" fill="#D95319"/><circle cx="859.22" cy="705.15" r="3.0" fill="#D95319"/><circle cx="863.85" cy="693.07" r="3.0" fill="#D95319"/><circle cx="868.47" cy="702.84" r="3.0" fill="#D95319"/><circle cx="873.36" cy="701.56" r="3.0" fill="#D95319"/><circle cx="877.98" cy="692.3" r="3.0" fill="#D95319"/><circle cx="882.61" cy="691.79" r="3.0" fill="#D95319"/><circle cx="887.5" cy="681.5" r="3.0" fill="#D95319"/><circle cx="892.12" cy="692.3" r="3.0" fill="#D95319"/><circle cx="896.75" cy="700.01" r="3.0" fill="#D95319"/><circle cx="901.12" cy="700.01" r="3.0" fill="#D95319"/><circle cx="905.75" cy="674.56" r="3.0" fill="#D95319"/><circle cx="910.63" cy="668.65" r="3.0" fill="#D95319"/><circle cx="915.26" cy="654.51" r="3.0" fill="#D95319"/><circle cx="919.89" cy="696.16" r="3.0" fill="#D95319"/><circle cx="924.77" cy="649.88" r="3.0" fill="#D95319"/><circle cx="929.4" cy="605.67" r="3.0" fill="#D95319"/><circle cx="934.03" cy="653.74" r="3.0" fill="#D95319"/><circle cx="938.91" cy="675.85" r="3.0" fill="#D95319"/><circle cx="943.54" cy="700.27" r="3.0" fill="#D95319"/><circle cx="948.16" cy="683.56" r="3.0" fill="#D95319"/><circle cx="952.53" cy="687.42" r="3.0" fill="#D95319"/><circle cx="957.16" cy="676.36" r="3.0" fill="#D95319"/><circle cx="962.05" cy="659.14" r="3.0" fill="#D95319"/><circle cx="966.67" cy="692.3" r="3.0" fill="#D95319"/><circle cx="971.3" cy="690.5" r="3.0" fill="#D95319"/><circle cx="976.19" cy="683.56" r="3.0" fill="#D95319"/><circle cx="980.81" cy="654.51" r="3.0" fill="#D95319"/><circle cx="985.44" cy="669.94" r="3.0" fill="#D95319"/><circle cx="989.81" cy="664.79" r="3.0" fill="#D95319"/><circle cx="994.44" cy="651.43" r="3.0" fill="#D95319"/><circle cx="999.32" cy="648.86" r="3.0" fill="#D95319"/><circle cx="1003.95" cy="633.43" r="3.0" fill="#D95319"/><circle cx="1008.58" cy="628.8" r="3.0" fill="#D95319"/><circle cx="1013.46" cy="606.95" r="3.0" fill="#D95319"/><circle cx="1018.09" cy="619.04" r="3.0" fill="#D95319"/><circle cx="1022.71" cy="596.67" r="3.0" fill="#D95319"/><circle cx="1027.6" cy="570.96" r="3.0" fill="#D95319"/></g>
<line x1="838" y1="480.2" x2="861.6" y2="480.2" stroke="#0072BD" stroke-width="2.1"/>
<circle cx="849.8" cy="480.2" r="3.0" fill="#0072BD"/>
<text x="861.84" y="485.8" font-size="16.6" fill="#000" style="fill:#000">FCI trion</text>
<line x1="838" y1="500.7" x2="861.6" y2="500.7" stroke="#D95319" stroke-width="2.1"/>
<circle cx="849.8" cy="500.7" r="3.0" fill="#D95319"/>
<text x="863.17" y="506.3" font-size="16.6" fill="#000" style="fill:#000">Anyon trion</text>
<text x="846.22" y="549.5" font-size="24.5" font-weight="bold" style="fill:#1a1a1a">Trap 8</text>
<text transform="translate(863.8 825.8) scale(1 1.0)" font-size="29.2">Energy (eV)</text>
<text transform="translate(753.5 678.9) rotate(-90) scale(1 1.0)" font-size="29.2">PL (kcounts)</text>
<clipPath id="cdR"><rect x="1163.8" y="457.4" width="192" height="301.1"/></clipPath>
<clipPath id="mcdR"><rect x="1162" y="455.6" width="195.6" height="304.7"/></clipPath>
<rect x="1162.9" y="456.5" width="193.8" height="302.9" fill="none" stroke="#1e1e1e" stroke-width="1.8"/>
<path d="M1162.9 456.1h5.2M1356.7 456.1h-5.2" stroke="#1e1e1e" stroke-width="1.6"/>
<text transform="translate(1112.04 466) scale(1 1.045)" font-size="29">0.2</text>
<path d="M1162.9 531.9h5.2M1356.7 531.9h-5.2" stroke="#1e1e1e" stroke-width="1.6"/>
<text transform="translate(1102.32 541.8) scale(1 1.045)" font-size="29">0. 5</text><path transform="translate(1126.5 541.8) scale(29 -30.305)" d="M0.285 0L0.379 0L0.379 0.703L0.3 0.703L0.107 0.545L0.107 0.463L0.285 0.575Z" style="fill:#1c1c1c"/>
<path d="M1162.9 607.8h5.2M1356.7 607.8h-5.2" stroke="#1e1e1e" stroke-width="1.6"/>
<text transform="translate(1112.92 617.7) scale(1 1.045)" font-size="29">0. </text><path transform="translate(1137.11 617.7) scale(29 -30.305)" d="M0.285 0L0.379 0L0.379 0.703L0.3 0.703L0.107 0.545L0.107 0.463L0.285 0.575Z" style="fill:#1c1c1c"/>
<path d="M1162.9 683.6h5.2M1356.7 683.6h-5.2" stroke="#1e1e1e" stroke-width="1.6"/>
<text transform="translate(1102.32 693.5) scale(1 1.045)" font-size="29">0.05</text>
<path d="M1162.9 759.2h5.2M1356.7 759.2h-5.2" stroke="#1e1e1e" stroke-width="1.6"/>
<text transform="translate(1142.1 769.1) scale(1 1.045)" font-size="29">0</text>
<path d="M1227.5 759.4v-5.2M1227.5 456.5v5.2" stroke="#1e1e1e" stroke-width="1.6"/>
<path d="M1292.3 759.4v-5.2M1292.3 456.5v5.2" stroke="#1e1e1e" stroke-width="1.6"/>
<text transform="translate(1187.8 793.9) scale(1 1.045)" font-size="29"> . 03</text><path transform="translate(1187.8 793.9) scale(29 -30.305)" d="M0.285 0L0.379 0L0.379 0.703L0.3 0.703L0.107 0.545L0.107 0.463L0.285 0.575Z" style="fill:#1c1c1c"/><path transform="translate(1211.98 793.9) scale(29 -30.305)" d="M0.285 0L0.379 0L0.379 0.703L0.3 0.703L0.107 0.545L0.107 0.463L0.285 0.575Z" style="fill:#1c1c1c"/>
<text transform="translate(1273.4 793.9) scale(1 1.045)" font-size="29"> . 04</text><path transform="translate(1273.4 793.9) scale(29 -30.305)" d="M0.285 0L0.379 0L0.379 0.703L0.3 0.703L0.107 0.545L0.107 0.463L0.285 0.575Z" style="fill:#1c1c1c"/><path transform="translate(1297.58 793.9) scale(29 -30.305)" d="M0.285 0L0.379 0L0.379 0.703L0.3 0.703L0.107 0.545L0.107 0.463L0.285 0.575Z" style="fill:#1c1c1c"/>
<polyline clip-path="url(#cdR)" points="1162.71,712.42 1167.34,705.22 1172.23,686.71 1176.86,676.42 1181.48,677.19 1186.37,687.99 1191,677.19 1195.63,691.34 1200.26,669.48 1204.88,660.48 1209.51,687.48 1214.14,693.91 1218.77,682.85 1223.66,687.99 1228.28,657.14 1232.91,657.91 1237.54,668.19 1242.17,669.22 1246.8,673.85 1251.43,654.57 1256.05,636.57 1260.68,693.91 1265.57,695.71 1270.2,672.56 1274.83,664.85 1279.45,658.94 1284.08,658.42 1288.71,621.14 1293.34,630.14 1297.97,613.42 1302.85,589 1307.48,598.51 1312.11,564.57 1316.74,542.2 1321.37,554.28 1326,599.28 1330.62,631.94 1335.25,639.14 1340.14,612.14 1344.77,612.14 1349.39,613.42 1354.02,551.71 1358.7,604.94" fill="none" stroke="#0072BD" stroke-width="2.1" stroke-linejoin="round"/>
<g clip-path="url(#mcdR)"><circle cx="1162.71" cy="712.42" r="3.0" fill="#0072BD"/><circle cx="1167.34" cy="705.22" r="3.0" fill="#0072BD"/><circle cx="1172.23" cy="686.71" r="3.0" fill="#0072BD"/><circle cx="1176.86" cy="676.42" r="3.0" fill="#0072BD"/><circle cx="1181.48" cy="677.19" r="3.0" fill="#0072BD"/><circle cx="1186.37" cy="687.99" r="3.0" fill="#0072BD"/><circle cx="1191" cy="677.19" r="3.0" fill="#0072BD"/><circle cx="1195.63" cy="691.34" r="3.0" fill="#0072BD"/><circle cx="1200.26" cy="669.48" r="3.0" fill="#0072BD"/><circle cx="1204.88" cy="660.48" r="3.0" fill="#0072BD"/><circle cx="1209.51" cy="687.48" r="3.0" fill="#0072BD"/><circle cx="1214.14" cy="693.91" r="3.0" fill="#0072BD"/><circle cx="1218.77" cy="682.85" r="3.0" fill="#0072BD"/><circle cx="1223.66" cy="687.99" r="3.0" fill="#0072BD"/><circle cx="1228.28" cy="657.14" r="3.0" fill="#0072BD"/><circle cx="1232.91" cy="657.91" r="3.0" fill="#0072BD"/><circle cx="1237.54" cy="668.19" r="3.0" fill="#0072BD"/><circle cx="1242.17" cy="669.22" r="3.0" fill="#0072BD"/><circle cx="1246.8" cy="673.85" r="3.0" fill="#0072BD"/><circle cx="1251.43" cy="654.57" r="3.0" fill="#0072BD"/><circle cx="1256.05" cy="636.57" r="3.0" fill="#0072BD"/><circle cx="1260.68" cy="693.91" r="3.0" fill="#0072BD"/><circle cx="1265.57" cy="695.71" r="3.0" fill="#0072BD"/><circle cx="1270.2" cy="672.56" r="3.0" fill="#0072BD"/><circle cx="1274.83" cy="664.85" r="3.0" fill="#0072BD"/><circle cx="1279.45" cy="658.94" r="3.0" fill="#0072BD"/><circle cx="1284.08" cy="658.42" r="3.0" fill="#0072BD"/><circle cx="1288.71" cy="621.14" r="3.0" fill="#0072BD"/><circle cx="1293.34" cy="630.14" r="3.0" fill="#0072BD"/><circle cx="1297.97" cy="613.42" r="3.0" fill="#0072BD"/><circle cx="1302.85" cy="589" r="3.0" fill="#0072BD"/><circle cx="1307.48" cy="598.51" r="3.0" fill="#0072BD"/><circle cx="1312.11" cy="564.57" r="3.0" fill="#0072BD"/><circle cx="1316.74" cy="542.2" r="3.0" fill="#0072BD"/><circle cx="1321.37" cy="554.28" r="3.0" fill="#0072BD"/><circle cx="1326" cy="599.28" r="3.0" fill="#0072BD"/><circle cx="1330.62" cy="631.94" r="3.0" fill="#0072BD"/><circle cx="1335.25" cy="639.14" r="3.0" fill="#0072BD"/><circle cx="1340.14" cy="612.14" r="3.0" fill="#0072BD"/><circle cx="1344.77" cy="612.14" r="3.0" fill="#0072BD"/><circle cx="1349.39" cy="613.42" r="3.0" fill="#0072BD"/><circle cx="1354.02" cy="551.71" r="3.0" fill="#0072BD"/></g>
<polyline clip-path="url(#cdR)" points="1162.71,705.99 1167.34,709.85 1172.23,691.34 1176.86,663.57 1181.48,677.19 1186.37,683.62 1191,663.57 1195.63,673.85 1200.26,643.77 1204.88,649.94 1209.51,651.48 1214.14,640.42 1218.77,661.77 1223.66,664.85 1228.28,642.48 1232.91,684.91 1237.54,669.48 1242.17,670.76 1246.8,651.99 1251.43,681.56 1256.05,621.91 1260.68,660.22 1265.57,677.19 1270.2,666.14 1274.83,628.85 1279.45,596.71 1284.08,598.51 1288.71,534.48 1293.34,573.57 1297.97,604.42 1302.85,598 1307.48,640.94 1312.11,629.62 1316.74,629.62 1321.37,608.28 1326,596.71 1330.62,612.14 1335.25,576.91 1340.14,593.62 1344.77,576.91 1349.39,557.37 1354.02,535.51 1358.7,560.2" fill="none" stroke="#D95319" stroke-width="2.1" stroke-linejoin="round"/>
<g clip-path="url(#mcdR)"><circle cx="1162.71" cy="705.99" r="3.0" fill="#D95319"/><circle cx="1167.34" cy="709.85" r="3.0" fill="#D95319"/><circle cx="1172.23" cy="691.34" r="3.0" fill="#D95319"/><circle cx="1176.86" cy="663.57" r="3.0" fill="#D95319"/><circle cx="1181.48" cy="677.19" r="3.0" fill="#D95319"/><circle cx="1186.37" cy="683.62" r="3.0" fill="#D95319"/><circle cx="1191" cy="663.57" r="3.0" fill="#D95319"/><circle cx="1195.63" cy="673.85" r="3.0" fill="#D95319"/><circle cx="1200.26" cy="643.77" r="3.0" fill="#D95319"/><circle cx="1204.88" cy="649.94" r="3.0" fill="#D95319"/><circle cx="1209.51" cy="651.48" r="3.0" fill="#D95319"/><circle cx="1214.14" cy="640.42" r="3.0" fill="#D95319"/><circle cx="1218.77" cy="661.77" r="3.0" fill="#D95319"/><circle cx="1223.66" cy="664.85" r="3.0" fill="#D95319"/><circle cx="1228.28" cy="642.48" r="3.0" fill="#D95319"/><circle cx="1232.91" cy="684.91" r="3.0" fill="#D95319"/><circle cx="1237.54" cy="669.48" r="3.0" fill="#D95319"/><circle cx="1242.17" cy="670.76" r="3.0" fill="#D95319"/><circle cx="1246.8" cy="651.99" r="3.0" fill="#D95319"/><circle cx="1251.43" cy="681.56" r="3.0" fill="#D95319"/><circle cx="1256.05" cy="621.91" r="3.0" fill="#D95319"/><circle cx="1260.68" cy="660.22" r="3.0" fill="#D95319"/><circle cx="1265.57" cy="677.19" r="3.0" fill="#D95319"/><circle cx="1270.2" cy="666.14" r="3.0" fill="#D95319"/><circle cx="1274.83" cy="628.85" r="3.0" fill="#D95319"/><circle cx="1279.45" cy="596.71" r="3.0" fill="#D95319"/><circle cx="1284.08" cy="598.51" r="3.0" fill="#D95319"/><circle cx="1288.71" cy="534.48" r="3.0" fill="#D95319"/><circle cx="1293.34" cy="573.57" r="3.0" fill="#D95319"/><circle cx="1297.97" cy="604.42" r="3.0" fill="#D95319"/><circle cx="1302.85" cy="598" r="3.0" fill="#D95319"/><circle cx="1307.48" cy="640.94" r="3.0" fill="#D95319"/><circle cx="1312.11" cy="629.62" r="3.0" fill="#D95319"/><circle cx="1316.74" cy="629.62" r="3.0" fill="#D95319"/><circle cx="1321.37" cy="608.28" r="3.0" fill="#D95319"/><circle cx="1326" cy="596.71" r="3.0" fill="#D95319"/><circle cx="1330.62" cy="612.14" r="3.0" fill="#D95319"/><circle cx="1335.25" cy="576.91" r="3.0" fill="#D95319"/><circle cx="1340.14" cy="593.62" r="3.0" fill="#D95319"/><circle cx="1344.77" cy="576.91" r="3.0" fill="#D95319"/><circle cx="1349.39" cy="557.37" r="3.0" fill="#D95319"/><circle cx="1354.02" cy="535.51" r="3.0" fill="#D95319"/></g>
<line x1="1169" y1="480.2" x2="1192.6" y2="480.2" stroke="#0072BD" stroke-width="2.1"/>
<circle cx="1180.8" cy="480.2" r="3.0" fill="#0072BD"/>
<text x="1192.84" y="485.8" font-size="16.6" fill="#000" style="fill:#000">FCI trion</text>
<line x1="1169" y1="500.7" x2="1192.6" y2="500.7" stroke="#D95319" stroke-width="2.1"/>
<circle cx="1180.8" cy="500.7" r="3.0" fill="#D95319"/>
<text x="1194.17" y="506.3" font-size="16.6" fill="#000" style="fill:#000">Anyon trion</text>
<text transform="translate(1190.9 825.8) scale(1 1.0)" font-size="29.2">Energy (eV)</text>
<text transform="translate(1085.5 678.9) rotate(-90) scale(1 1.0)" font-size="29.2">PL (kcounts)</text>
<clipPath id="ceL"><rect x="123.9" y="888.8" width="201.7" height="301.2"/></clipPath>
<clipPath id="mceL"><rect x="122.1" y="887" width="205.3" height="304.8"/></clipPath>
<rect x="123" y="887.9" width="203.5" height="303" fill="none" stroke="#1e1e1e" stroke-width="1.8"/>
<path d="M123 887.3h5.2M326.5 887.3h-5.2" stroke="#1e1e1e" stroke-width="1.6"/>
<text transform="translate(96.81 897.2) scale(1 1.045)" font-size="29"> </text><path transform="translate(96.81 897.2) scale(29 -30.305)" d="M0.285 0L0.379 0L0.379 0.703L0.3 0.703L0.107 0.545L0.107 0.463L0.285 0.575Z" style="fill:#1c1c1c"/>
<path d="M123 948.2h5.2M326.5 948.2h-5.2" stroke="#1e1e1e" stroke-width="1.6"/>
<text transform="translate(74.05 958.1) scale(1 1.045)" font-size="29">0.8</text>
<path d="M123 1008.6h5.2M326.5 1008.6h-5.2" stroke="#1e1e1e" stroke-width="1.6"/>
<text transform="translate(74.05 1018.5) scale(1 1.045)" font-size="29">0.6</text>
<path d="M123 1069.5h5.2M326.5 1069.5h-5.2" stroke="#1e1e1e" stroke-width="1.6"/>
<text transform="translate(74.05 1079.4) scale(1 1.045)" font-size="29">0.4</text>
<path d="M123 1130.2h5.2M326.5 1130.2h-5.2" stroke="#1e1e1e" stroke-width="1.6"/>
<text transform="translate(74.05 1140.1) scale(1 1.045)" font-size="29">0.2</text>
<path d="M123 1190.5h5.2M326.5 1190.5h-5.2" stroke="#1e1e1e" stroke-width="1.6"/>
<text transform="translate(98.23 1200.4) scale(1 1.045)" font-size="29">0</text>
<path d="M204.5 1190.9v-5.2M204.5 887.9v5.2" stroke="#1e1e1e" stroke-width="1.6"/>
<path d="M286.2 1190.9v-5.2M286.2 887.9v5.2" stroke="#1e1e1e" stroke-width="1.6"/>
<text transform="translate(165.4 1224.5) scale(1 1.045)" font-size="29"> . 05</text><path transform="translate(165.4 1224.5) scale(29 -30.305)" d="M0.285 0L0.379 0L0.379 0.703L0.3 0.703L0.107 0.545L0.107 0.463L0.285 0.575Z" style="fill:#1c1c1c"/><path transform="translate(189.58 1224.5) scale(29 -30.305)" d="M0.285 0L0.379 0L0.379 0.703L0.3 0.703L0.107 0.545L0.107 0.463L0.285 0.575Z" style="fill:#1c1c1c"/>
<text transform="translate(246.8 1224.5) scale(1 1.045)" font-size="29"> . 06</text><path transform="translate(246.8 1224.5) scale(29 -30.305)" d="M0.285 0L0.379 0L0.379 0.703L0.3 0.703L0.107 0.545L0.107 0.463L0.285 0.575Z" style="fill:#1c1c1c"/><path transform="translate(270.98 1224.5) scale(29 -30.305)" d="M0.285 0L0.379 0L0.379 0.703L0.3 0.703L0.107 0.545L0.107 0.463L0.285 0.575Z" style="fill:#1c1c1c"/>
<polyline clip-path="url(#ceL)" points="124,1160.27 130.42,1156.42 136.85,1158.99 142.76,1152.05 148.41,1145.62 154.84,1147.42 160.75,1146.14 166.4,1147.42 172.31,1151.28 178.22,1149.99 183.88,1153.08 190.04,1143.57 195.96,1139.71 201.87,1142.8 207.52,1141 213.43,1132.52 219.34,1118.64 225,1105.53 231.17,1119.92 237.08,1117.87 242.99,1132 248.64,1112.73 254.55,1114.01 260.46,1072.12 266.63,918.69 272.54,988.08 278.2,1092.17 284.11,1111.44 290.02,1114.53 296.19,1109.39 302.1,1103.73 307.75,1094.74 313.66,1092.68 319.57,1087.8 325.74,1095.51" fill="none" stroke="#0072BD" stroke-width="2.1" stroke-linejoin="round"/>
<g clip-path="url(#mceL)"><circle cx="124" cy="1160.27" r="3.0" fill="#0072BD"/><circle cx="130.42" cy="1156.42" r="3.0" fill="#0072BD"/><circle cx="136.85" cy="1158.99" r="3.0" fill="#0072BD"/><circle cx="142.76" cy="1152.05" r="3.0" fill="#0072BD"/><circle cx="148.41" cy="1145.62" r="3.0" fill="#0072BD"/><circle cx="154.84" cy="1147.42" r="3.0" fill="#0072BD"/><circle cx="160.75" cy="1146.14" r="3.0" fill="#0072BD"/><circle cx="166.4" cy="1147.42" r="3.0" fill="#0072BD"/><circle cx="172.31" cy="1151.28" r="3.0" fill="#0072BD"/><circle cx="178.22" cy="1149.99" r="3.0" fill="#0072BD"/><circle cx="183.88" cy="1153.08" r="3.0" fill="#0072BD"/><circle cx="190.04" cy="1143.57" r="3.0" fill="#0072BD"/><circle cx="195.96" cy="1139.71" r="3.0" fill="#0072BD"/><circle cx="201.87" cy="1142.8" r="3.0" fill="#0072BD"/><circle cx="207.52" cy="1141" r="3.0" fill="#0072BD"/><circle cx="213.43" cy="1132.52" r="3.0" fill="#0072BD"/><circle cx="219.34" cy="1118.64" r="3.0" fill="#0072BD"/><circle cx="225" cy="1105.53" r="3.0" fill="#0072BD"/><circle cx="231.17" cy="1119.92" r="3.0" fill="#0072BD"/><circle cx="237.08" cy="1117.87" r="3.0" fill="#0072BD"/><circle cx="242.99" cy="1132" r="3.0" fill="#0072BD"/><circle cx="248.64" cy="1112.73" r="3.0" fill="#0072BD"/><circle cx="254.55" cy="1114.01" r="3.0" fill="#0072BD"/><circle cx="260.46" cy="1072.12" r="3.0" fill="#0072BD"/><circle cx="266.63" cy="918.69" r="3.0" fill="#0072BD"/><circle cx="272.54" cy="988.08" r="3.0" fill="#0072BD"/><circle cx="278.2" cy="1092.17" r="3.0" fill="#0072BD"/><circle cx="284.11" cy="1111.44" r="3.0" fill="#0072BD"/><circle cx="290.02" cy="1114.53" r="3.0" fill="#0072BD"/><circle cx="296.19" cy="1109.39" r="3.0" fill="#0072BD"/><circle cx="302.1" cy="1103.73" r="3.0" fill="#0072BD"/><circle cx="307.75" cy="1094.74" r="3.0" fill="#0072BD"/><circle cx="313.66" cy="1092.68" r="3.0" fill="#0072BD"/><circle cx="319.57" cy="1087.8" r="3.0" fill="#0072BD"/><circle cx="325.74" cy="1095.51" r="3.0" fill="#0072BD"/></g>
<polyline clip-path="url(#ceL)" points="124,1164.13 130.42,1154.36 136.85,1157.7 142.76,1153.08 148.41,1152.56 154.84,1153.08 160.75,1147.42 166.4,1149.48 172.31,1152.05 178.22,1146.14 183.88,1138.43 190.04,1131.49 195.96,1132.52 201.87,1116.58 207.52,1096.02 213.43,1051.05 219.34,1075.46 225,1069.04 231.17,1103.22 237.08,1117.1 242.99,1135.34 248.64,1125.58 254.55,1129.43 260.46,1128.15 266.63,1116.58 272.54,1122.24 278.2,1124.29 284.11,1121.21 290.02,1123.01 296.19,1117.1 302.1,1103.22 307.75,1086.26 313.66,1078.03 319.57,1052.33 325.74,1082.66" fill="none" stroke="#D95319" stroke-width="2.1" stroke-linejoin="round"/>
<g clip-path="url(#mceL)"><circle cx="124" cy="1164.13" r="3.0" fill="#D95319"/><circle cx="130.42" cy="1154.36" r="3.0" fill="#D95319"/><circle cx="136.85" cy="1157.7" r="3.0" fill="#D95319"/><circle cx="142.76" cy="1153.08" r="3.0" fill="#D95319"/><circle cx="148.41" cy="1152.56" r="3.0" fill="#D95319"/><circle cx="154.84" cy="1153.08" r="3.0" fill="#D95319"/><circle cx="160.75" cy="1147.42" r="3.0" fill="#D95319"/><circle cx="166.4" cy="1149.48" r="3.0" fill="#D95319"/><circle cx="172.31" cy="1152.05" r="3.0" fill="#D95319"/><circle cx="178.22" cy="1146.14" r="3.0" fill="#D95319"/><circle cx="183.88" cy="1138.43" r="3.0" fill="#D95319"/><circle cx="190.04" cy="1131.49" r="3.0" fill="#D95319"/><circle cx="195.96" cy="1132.52" r="3.0" fill="#D95319"/><circle cx="201.87" cy="1116.58" r="3.0" fill="#D95319"/><circle cx="207.52" cy="1096.02" r="3.0" fill="#D95319"/><circle cx="213.43" cy="1051.05" r="3.0" fill="#D95319"/><circle cx="219.34" cy="1075.46" r="3.0" fill="#D95319"/><circle cx="225" cy="1069.04" r="3.0" fill="#D95319"/><circle cx="231.17" cy="1103.22" r="3.0" fill="#D95319"/><circle cx="237.08" cy="1117.1" r="3.0" fill="#D95319"/><circle cx="242.99" cy="1135.34" r="3.0" fill="#D95319"/><circle cx="248.64" cy="1125.58" r="3.0" fill="#D95319"/><circle cx="254.55" cy="1129.43" r="3.0" fill="#D95319"/><circle cx="260.46" cy="1128.15" r="3.0" fill="#D95319"/><circle cx="266.63" cy="1116.58" r="3.0" fill="#D95319"/><circle cx="272.54" cy="1122.24" r="3.0" fill="#D95319"/><circle cx="278.2" cy="1124.29" r="3.0" fill="#D95319"/><circle cx="284.11" cy="1121.21" r="3.0" fill="#D95319"/><circle cx="290.02" cy="1123.01" r="3.0" fill="#D95319"/><circle cx="296.19" cy="1117.1" r="3.0" fill="#D95319"/><circle cx="302.1" cy="1103.22" r="3.0" fill="#D95319"/><circle cx="307.75" cy="1086.26" r="3.0" fill="#D95319"/><circle cx="313.66" cy="1078.03" r="3.0" fill="#D95319"/><circle cx="319.57" cy="1052.33" r="3.0" fill="#D95319"/><circle cx="325.74" cy="1082.66" r="3.0" fill="#D95319"/></g>
<line x1="131.1" y1="906.7" x2="154.9" y2="906.7" stroke="#0072BD" stroke-width="2.1"/>
<circle cx="143" cy="906.7" r="3.0" fill="#0072BD"/>
<text x="155.14" y="912.3" font-size="16.6" fill="#000" style="fill:#000">FCI trion</text>
<line x1="131.1" y1="927.2" x2="154.9" y2="927.2" stroke="#D95319" stroke-width="2.1"/>
<circle cx="143" cy="927.2" r="3.0" fill="#D95319"/>
<text x="156.47" y="932.8" font-size="16.6" fill="#000" style="fill:#000">Anyon trion</text>
<text x="139.42" y="971.8" font-size="24.5" font-weight="bold" style="fill:#1a1a1a">Trap 10</text>
<text transform="translate(156.2 1256.8) scale(1 1.0)" font-size="29.2">Energy (eV)</text>
<text transform="translate(48.7 1122.8) rotate(-90) scale(1 1.0)" font-size="29.2">PL (kcounts)</text>
<clipPath id="ceR"><rect x="447" y="888.8" width="201.7" height="301.2"/></clipPath>
<clipPath id="mceR"><rect x="445.2" y="887" width="205.3" height="304.8"/></clipPath>
<rect x="446.1" y="887.9" width="203.5" height="303" fill="none" stroke="#1e1e1e" stroke-width="1.8"/>
<path d="M446.1 887.3h5.2M649.6 887.3h-5.2" stroke="#1e1e1e" stroke-width="1.6"/>
<text transform="translate(394.75 897.2) scale(1 1.045)" font-size="29">0.6</text>
<path d="M446.1 938h5.2M649.6 938h-5.2" stroke="#1e1e1e" stroke-width="1.6"/>
<text transform="translate(394.75 947.9) scale(1 1.045)" font-size="29">0.5</text>
<path d="M446.1 988.6h5.2M649.6 988.6h-5.2" stroke="#1e1e1e" stroke-width="1.6"/>
<text transform="translate(394.75 998.5) scale(1 1.045)" font-size="29">0.4</text>
<path d="M446.1 1039h5.2M649.6 1039h-5.2" stroke="#1e1e1e" stroke-width="1.6"/>
<text transform="translate(394.75 1048.9) scale(1 1.045)" font-size="29">0.3</text>
<path d="M446.1 1089.6h5.2M649.6 1089.6h-5.2" stroke="#1e1e1e" stroke-width="1.6"/>
<text transform="translate(394.75 1099.5) scale(1 1.045)" font-size="29">0.2</text>
<path d="M446.1 1140.2h5.2M649.6 1140.2h-5.2" stroke="#1e1e1e" stroke-width="1.6"/>
<text transform="translate(394.75 1150.1) scale(1 1.045)" font-size="29">0. </text><path transform="translate(418.93 1150.1) scale(29 -30.305)" d="M0.285 0L0.379 0L0.379 0.703L0.3 0.703L0.107 0.545L0.107 0.463L0.285 0.575Z" style="fill:#1c1c1c"/>
<path d="M446.1 1190.5h5.2M649.6 1190.5h-5.2" stroke="#1e1e1e" stroke-width="1.6"/>
<text transform="translate(418.93 1200.4) scale(1 1.045)" font-size="29">0</text>
<path d="M527.6 1190.9v-5.2M527.6 887.9v5.2" stroke="#1e1e1e" stroke-width="1.6"/>
<path d="M608.8 1190.9v-5.2M608.8 887.9v5.2" stroke="#1e1e1e" stroke-width="1.6"/>
<text transform="translate(488.2 1224.5) scale(1 1.045)" font-size="29"> . 05</text><path transform="translate(488.2 1224.5) scale(29 -30.305)" d="M0.285 0L0.379 0L0.379 0.703L0.3 0.703L0.107 0.545L0.107 0.463L0.285 0.575Z" style="fill:#1c1c1c"/><path transform="translate(512.38 1224.5) scale(29 -30.305)" d="M0.285 0L0.379 0L0.379 0.703L0.3 0.703L0.107 0.545L0.107 0.463L0.285 0.575Z" style="fill:#1c1c1c"/>
<text transform="translate(569.6 1224.5) scale(1 1.045)" font-size="29"> . 06</text><path transform="translate(569.6 1224.5) scale(29 -30.305)" d="M0.285 0L0.379 0L0.379 0.703L0.3 0.703L0.107 0.545L0.107 0.463L0.285 0.575Z" style="fill:#1c1c1c"/><path transform="translate(593.78 1224.5) scale(29 -30.305)" d="M0.285 0L0.379 0L0.379 0.703L0.3 0.703L0.107 0.545L0.107 0.463L0.285 0.575Z" style="fill:#1c1c1c"/>
<polyline clip-path="url(#ceR)" points="447,1134.06 453.93,1129.43 459.85,1133.29 465.76,1129.43 471.41,1128.15 477.32,1122.24 483.23,1137.14 489.14,1120.44 495.05,1132.77 500.97,1141 506.88,1141 512.79,1117.87 518.7,1121.72 524.61,1105.02 530.52,1115.3 536.18,1101.16 542.09,1094.22 548,1087.8 553.91,1090.88 559.82,1082.66 565.73,1096.02 571.64,1083.69 577.55,1063.13 583.46,1043.34 589.37,1028.43 595.29,985 601.2,943.88 607.11,1008.64 613.02,1076.75 618.93,1079.83 624.84,1076.75 630.75,1075.46 636.66,1074.18 642.57,1074.18 648.74,1072.12" fill="none" stroke="#0072BD" stroke-width="2.1" stroke-linejoin="round"/>
<g clip-path="url(#mceR)"><circle cx="447" cy="1134.06" r="3.0" fill="#0072BD"/><circle cx="453.93" cy="1129.43" r="3.0" fill="#0072BD"/><circle cx="459.85" cy="1133.29" r="3.0" fill="#0072BD"/><circle cx="465.76" cy="1129.43" r="3.0" fill="#0072BD"/><circle cx="471.41" cy="1128.15" r="3.0" fill="#0072BD"/><circle cx="477.32" cy="1122.24" r="3.0" fill="#0072BD"/><circle cx="483.23" cy="1137.14" r="3.0" fill="#0072BD"/><circle cx="489.14" cy="1120.44" r="3.0" fill="#0072BD"/><circle cx="495.05" cy="1132.77" r="3.0" fill="#0072BD"/><circle cx="500.97" cy="1141" r="3.0" fill="#0072BD"/><circle cx="506.88" cy="1141" r="3.0" fill="#0072BD"/><circle cx="512.79" cy="1117.87" r="3.0" fill="#0072BD"/><circle cx="518.7" cy="1121.72" r="3.0" fill="#0072BD"/><circle cx="524.61" cy="1105.02" r="3.0" fill="#0072BD"/><circle cx="530.52" cy="1115.3" r="3.0" fill="#0072BD"/><circle cx="536.18" cy="1101.16" r="3.0" fill="#0072BD"/><circle cx="542.09" cy="1094.22" r="3.0" fill="#0072BD"/><circle cx="548" cy="1087.8" r="3.0" fill="#0072BD"/><circle cx="553.91" cy="1090.88" r="3.0" fill="#0072BD"/><circle cx="559.82" cy="1082.66" r="3.0" fill="#0072BD"/><circle cx="565.73" cy="1096.02" r="3.0" fill="#0072BD"/><circle cx="571.64" cy="1083.69" r="3.0" fill="#0072BD"/><circle cx="577.55" cy="1063.13" r="3.0" fill="#0072BD"/><circle cx="583.46" cy="1043.34" r="3.0" fill="#0072BD"/><circle cx="589.37" cy="1028.43" r="3.0" fill="#0072BD"/><circle cx="595.29" cy="985" r="3.0" fill="#0072BD"/><circle cx="601.2" cy="943.88" r="3.0" fill="#0072BD"/><circle cx="607.11" cy="1008.64" r="3.0" fill="#0072BD"/><circle cx="613.02" cy="1076.75" r="3.0" fill="#0072BD"/><circle cx="618.93" cy="1079.83" r="3.0" fill="#0072BD"/><circle cx="624.84" cy="1076.75" r="3.0" fill="#0072BD"/><circle cx="630.75" cy="1075.46" r="3.0" fill="#0072BD"/><circle cx="636.66" cy="1074.18" r="3.0" fill="#0072BD"/><circle cx="642.57" cy="1074.18" r="3.0" fill="#0072BD"/><circle cx="648.74" cy="1072.12" r="3.0" fill="#0072BD"/></g>
<polyline clip-path="url(#ceR)" points="447,1128.92 453.93,1139.71 459.85,1127.63 465.76,1126.09 471.41,1124.29 477.32,1121.72 483.23,1123.01 489.14,1135.34 495.05,1122.49 500.97,1142.8 506.88,1120.44 512.79,1117.1 518.7,1114.01 524.61,1102.96 530.52,1120.44 536.18,1100.65 542.09,1067.24 548,1073.41 553.91,1069.81 559.82,1040.77 565.73,1016.87 571.64,985.51 577.55,1008.13 583.46,1055.67 589.37,1063.38 595.29,1074.69 601.2,1088.31 607.11,1083.94 613.02,1095.25 618.93,1084.46 624.84,1073.66 630.75,1067.75 636.66,1072.38 642.57,1057.47 648.74,1063.38" fill="none" stroke="#D95319" stroke-width="2.1" stroke-linejoin="round"/>
<g clip-path="url(#mceR)"><circle cx="447" cy="1128.92" r="3.0" fill="#D95319"/><circle cx="453.93" cy="1139.71" r="3.0" fill="#D95319"/><circle cx="459.85" cy="1127.63" r="3.0" fill="#D95319"/><circle cx="465.76" cy="1126.09" r="3.0" fill="#D95319"/><circle cx="471.41" cy="1124.29" r="3.0" fill="#D95319"/><circle cx="477.32" cy="1121.72" r="3.0" fill="#D95319"/><circle cx="483.23" cy="1123.01" r="3.0" fill="#D95319"/><circle cx="489.14" cy="1135.34" r="3.0" fill="#D95319"/><circle cx="495.05" cy="1122.49" r="3.0" fill="#D95319"/><circle cx="500.97" cy="1142.8" r="3.0" fill="#D95319"/><circle cx="506.88" cy="1120.44" r="3.0" fill="#D95319"/><circle cx="512.79" cy="1117.1" r="3.0" fill="#D95319"/><circle cx="518.7" cy="1114.01" r="3.0" fill="#D95319"/><circle cx="524.61" cy="1102.96" r="3.0" fill="#D95319"/><circle cx="530.52" cy="1120.44" r="3.0" fill="#D95319"/><circle cx="536.18" cy="1100.65" r="3.0" fill="#D95319"/><circle cx="542.09" cy="1067.24" r="3.0" fill="#D95319"/><circle cx="548" cy="1073.41" r="3.0" fill="#D95319"/><circle cx="553.91" cy="1069.81" r="3.0" fill="#D95319"/><circle cx="559.82" cy="1040.77" r="3.0" fill="#D95319"/><circle cx="565.73" cy="1016.87" r="3.0" fill="#D95319"/><circle cx="571.64" cy="985.51" r="3.0" fill="#D95319"/><circle cx="577.55" cy="1008.13" r="3.0" fill="#D95319"/><circle cx="583.46" cy="1055.67" r="3.0" fill="#D95319"/><circle cx="589.37" cy="1063.38" r="3.0" fill="#D95319"/><circle cx="595.29" cy="1074.69" r="3.0" fill="#D95319"/><circle cx="601.2" cy="1088.31" r="3.0" fill="#D95319"/><circle cx="607.11" cy="1083.94" r="3.0" fill="#D95319"/><circle cx="613.02" cy="1095.25" r="3.0" fill="#D95319"/><circle cx="618.93" cy="1084.46" r="3.0" fill="#D95319"/><circle cx="624.84" cy="1073.66" r="3.0" fill="#D95319"/><circle cx="630.75" cy="1067.75" r="3.0" fill="#D95319"/><circle cx="636.66" cy="1072.38" r="3.0" fill="#D95319"/><circle cx="642.57" cy="1057.47" r="3.0" fill="#D95319"/><circle cx="648.74" cy="1063.38" r="3.0" fill="#D95319"/></g>
<line x1="457.8" y1="906.7" x2="481.6" y2="906.7" stroke="#0072BD" stroke-width="2.1"/>
<circle cx="469.7" cy="906.7" r="3.0" fill="#0072BD"/>
<text x="481.84" y="912.3" font-size="16.6" fill="#000" style="fill:#000">FCI trion</text>
<line x1="457.8" y1="927.2" x2="481.6" y2="927.2" stroke="#D95319" stroke-width="2.1"/>
<circle cx="469.7" cy="927.2" r="3.0" fill="#D95319"/>
<text x="483.17" y="932.8" font-size="16.6" fill="#000" style="fill:#000">Anyon trion</text>
<text transform="translate(479.3 1256.8) scale(1 1.0)" font-size="29.2">Energy (eV)</text>
<text transform="translate(376.7 1122.8) rotate(-90) scale(1 1.0)" font-size="29.2">PL (kcounts)</text>
<clipPath id="cfL"><rect x="831.1" y="884.1" width="201.6" height="301.3"/></clipPath>
<clipPath id="mcfL"><rect x="829.3" y="882.3" width="205.2" height="304.9"/></clipPath>
<rect x="830.2" y="883.2" width="203.4" height="303.1" fill="none" stroke="#1e1e1e" stroke-width="1.8"/>
<path d="M830.2 883.6h5.2M1033.6 883.6h-5.2" stroke="#1e1e1e" stroke-width="1.6"/>
<text transform="translate(780.85 893.5) scale(1 1.045)" font-size="29"> .2</text><path transform="translate(780.85 893.5) scale(29 -30.305)" d="M0.285 0L0.379 0L0.379 0.703L0.3 0.703L0.107 0.545L0.107 0.463L0.285 0.575Z" style="fill:#1c1c1c"/>
<path d="M830.2 933.9h5.2M1033.6 933.9h-5.2" stroke="#1e1e1e" stroke-width="1.6"/>
<text transform="translate(803.91 943.8) scale(1 1.045)" font-size="29"> </text><path transform="translate(803.91 943.8) scale(29 -30.305)" d="M0.285 0L0.379 0L0.379 0.703L0.3 0.703L0.107 0.545L0.107 0.463L0.285 0.575Z" style="fill:#1c1c1c"/>
<path d="M830.2 984.3h5.2M1033.6 984.3h-5.2" stroke="#1e1e1e" stroke-width="1.6"/>
<text transform="translate(780.85 994.2) scale(1 1.045)" font-size="29">0.8</text>
<path d="M830.2 1034.6h5.2M1033.6 1034.6h-5.2" stroke="#1e1e1e" stroke-width="1.6"/>
<text transform="translate(780.85 1044.5) scale(1 1.045)" font-size="29">0.6</text>
<path d="M830.2 1085h5.2M1033.6 1085h-5.2" stroke="#1e1e1e" stroke-width="1.6"/>
<text transform="translate(780.85 1094.9) scale(1 1.045)" font-size="29">0.4</text>
<path d="M830.2 1135.3h5.2M1033.6 1135.3h-5.2" stroke="#1e1e1e" stroke-width="1.6"/>
<text transform="translate(780.85 1145.2) scale(1 1.045)" font-size="29">0.2</text>
<path d="M830.2 1186.2h5.2M1033.6 1186.2h-5.2" stroke="#1e1e1e" stroke-width="1.6"/>
<text transform="translate(805.03 1196.1) scale(1 1.045)" font-size="29">0</text>
<path d="M870.7 1186.3v-5.2M870.7 883.2v5.2" stroke="#1e1e1e" stroke-width="1.6"/>
<path d="M952.4 1186.3v-5.2M952.4 883.2v5.2" stroke="#1e1e1e" stroke-width="1.6"/>
<text transform="translate(831.8 1218.9) scale(1 1.045)" font-size="29"> . 05</text><path transform="translate(831.8 1218.9) scale(29 -30.305)" d="M0.285 0L0.379 0L0.379 0.703L0.3 0.703L0.107 0.545L0.107 0.463L0.285 0.575Z" style="fill:#1c1c1c"/><path transform="translate(855.98 1218.9) scale(29 -30.305)" d="M0.285 0L0.379 0L0.379 0.703L0.3 0.703L0.107 0.545L0.107 0.463L0.285 0.575Z" style="fill:#1c1c1c"/>
<text transform="translate(912.7 1218.9) scale(1 1.045)" font-size="29"> . 06</text><path transform="translate(912.7 1218.9) scale(29 -30.305)" d="M0.285 0L0.379 0L0.379 0.703L0.3 0.703L0.107 0.545L0.107 0.463L0.285 0.575Z" style="fill:#1c1c1c"/><path transform="translate(936.88 1218.9) scale(29 -30.305)" d="M0.285 0L0.379 0L0.379 0.703L0.3 0.703L0.107 0.545L0.107 0.463L0.285 0.575Z" style="fill:#1c1c1c"/>
<polyline clip-path="url(#cfL)" points="933.17,1095.59 939.27,1093.47 944.57,1077.03 950.4,1065.64 956.5,934.71 962.59,942.39 968.42,1034.63 974.25,1049.73 980.35,1054.5 986.18,1043.11 991.75,1021.37 997.58,989.57 1003.41,986.39 1009.5,981.09 1015.6,958.56 1021.43,928.08 1027.26,922.51 1033.36,918.01" fill="none" stroke="#0072BD" stroke-width="2.1" stroke-linejoin="round"/>
<g clip-path="url(#mcfL)"><circle cx="933.17" cy="1095.59" r="3.0" fill="#0072BD"/><circle cx="939.27" cy="1093.47" r="3.0" fill="#0072BD"/><circle cx="944.57" cy="1077.03" r="3.0" fill="#0072BD"/><circle cx="950.4" cy="1065.64" r="3.0" fill="#0072BD"/><circle cx="956.5" cy="934.71" r="3.0" fill="#0072BD"/><circle cx="962.59" cy="942.39" r="3.0" fill="#0072BD"/><circle cx="968.42" cy="1034.63" r="3.0" fill="#0072BD"/><circle cx="974.25" cy="1049.73" r="3.0" fill="#0072BD"/><circle cx="980.35" cy="1054.5" r="3.0" fill="#0072BD"/><circle cx="986.18" cy="1043.11" r="3.0" fill="#0072BD"/><circle cx="991.75" cy="1021.37" r="3.0" fill="#0072BD"/><circle cx="997.58" cy="989.57" r="3.0" fill="#0072BD"/><circle cx="1003.41" cy="986.39" r="3.0" fill="#0072BD"/><circle cx="1009.5" cy="981.09" r="3.0" fill="#0072BD"/><circle cx="1015.6" cy="958.56" r="3.0" fill="#0072BD"/><circle cx="1021.43" cy="928.08" r="3.0" fill="#0072BD"/><circle cx="1027.26" cy="922.51" r="3.0" fill="#0072BD"/><circle cx="1033.36" cy="918.01" r="3.0" fill="#0072BD"/></g>
<polyline clip-path="url(#cfL)" points="831.93,1106.72 838.02,1126.07 843.85,1128.72 849.95,1140.64 855.78,1133.22 861.88,1127.39 867.71,1116.26 873.8,1114.14 879.63,1084.98 885.47,988.24 891.56,1028.8 897.39,1061.13 903.49,1096.12 909.32,1102.21 915.41,1104.86 921.25,1098.77 927.34,1095.06 933.17,1095.59 939.27,1093.47 944.57,1081.01 950.4,1069.88" fill="none" stroke="#D95319" stroke-width="2.1" stroke-linejoin="round"/>
<g clip-path="url(#mcfL)"><circle cx="831.93" cy="1106.72" r="3.0" fill="#D95319"/><circle cx="838.02" cy="1126.07" r="3.0" fill="#D95319"/><circle cx="843.85" cy="1128.72" r="3.0" fill="#D95319"/><circle cx="849.95" cy="1140.64" r="3.0" fill="#D95319"/><circle cx="855.78" cy="1133.22" r="3.0" fill="#D95319"/><circle cx="861.88" cy="1127.39" r="3.0" fill="#D95319"/><circle cx="867.71" cy="1116.26" r="3.0" fill="#D95319"/><circle cx="873.8" cy="1114.14" r="3.0" fill="#D95319"/><circle cx="879.63" cy="1084.98" r="3.0" fill="#D95319"/><circle cx="885.47" cy="988.24" r="3.0" fill="#D95319"/><circle cx="891.56" cy="1028.8" r="3.0" fill="#D95319"/><circle cx="897.39" cy="1061.13" r="3.0" fill="#D95319"/><circle cx="903.49" cy="1096.12" r="3.0" fill="#D95319"/><circle cx="909.32" cy="1102.21" r="3.0" fill="#D95319"/><circle cx="915.41" cy="1104.86" r="3.0" fill="#D95319"/><circle cx="921.25" cy="1098.77" r="3.0" fill="#D95319"/><circle cx="927.34" cy="1095.06" r="3.0" fill="#D95319"/><circle cx="933.17" cy="1095.59" r="3.0" fill="#D95319"/><circle cx="939.27" cy="1093.47" r="3.0" fill="#D95319"/><circle cx="944.57" cy="1081.01" r="3.0" fill="#D95319"/><circle cx="950.4" cy="1069.88" r="3.0" fill="#D95319"/></g>
<line x1="838.3" y1="903.7" x2="861.6" y2="903.7" stroke="#0072BD" stroke-width="2.1"/>
<circle cx="849.95" cy="903.7" r="3.0" fill="#0072BD"/>
<text x="862.14" y="909.3" font-size="16.6" fill="#000" style="fill:#000">FCI trion</text>
<line x1="838.3" y1="924.2" x2="861.6" y2="924.2" stroke="#D95319" stroke-width="2.1"/>
<circle cx="849.95" cy="924.2" r="3.0" fill="#D95319"/>
<text x="863.47" y="929.8" font-size="16.6" fill="#000" style="fill:#000">Anyon trion</text>
<text x="846.42" y="967.6" font-size="24.5" font-weight="bold" style="fill:#1a1a1a">Trap 11</text>
<text transform="translate(854.8 1252.1) scale(1 1.0)" font-size="29.2">Energy (eV)</text>
<text transform="translate(753.5 1116.7) rotate(-90) scale(1 1.0)" font-size="29.2">PL (kcounts)</text>
<clipPath id="cfR"><rect x="1159.1" y="882.4" width="201.4" height="301.1"/></clipPath>
<clipPath id="mcfR"><rect x="1157.3" y="880.6" width="205" height="304.7"/></clipPath>
<rect x="1158.2" y="881.5" width="203.2" height="302.9" fill="none" stroke="#1e1e1e" stroke-width="1.8"/>
<path d="M1158.2 908.2h5.2M1361.4 908.2h-5.2" stroke="#1e1e1e" stroke-width="1.6"/>
<text transform="translate(1110.85 918.1) scale(1 1.045)" font-size="29">0.6</text>
<path d="M1158.2 1018.7h5.2M1361.4 1018.7h-5.2" stroke="#1e1e1e" stroke-width="1.6"/>
<text transform="translate(1110.85 1028.6) scale(1 1.045)" font-size="29">0.4</text>
<path d="M1158.2 1129.2h5.2M1361.4 1129.2h-5.2" stroke="#1e1e1e" stroke-width="1.6"/>
<text transform="translate(1110.85 1139.1) scale(1 1.045)" font-size="29">0.2</text>
<path d="M1198.7 1184.4v-5.2M1198.7 881.5v5.2" stroke="#1e1e1e" stroke-width="1.6"/>
<path d="M1280 1184.4v-5.2M1280 881.5v5.2" stroke="#1e1e1e" stroke-width="1.6"/>
<text transform="translate(1157 1218.5) scale(1 1.045)" font-size="29"> . 05</text><path transform="translate(1157 1218.5) scale(29 -30.305)" d="M0.285 0L0.379 0L0.379 0.703L0.3 0.703L0.107 0.545L0.107 0.463L0.285 0.575Z" style="fill:#1c1c1c"/><path transform="translate(1181.18 1218.5) scale(29 -30.305)" d="M0.285 0L0.379 0L0.379 0.703L0.3 0.703L0.107 0.545L0.107 0.463L0.285 0.575Z" style="fill:#1c1c1c"/>
<text transform="translate(1241.5 1218.5) scale(1 1.045)" font-size="29"> . 06</text><path transform="translate(1241.5 1218.5) scale(29 -30.305)" d="M0.285 0L0.379 0L0.379 0.703L0.3 0.703L0.107 0.545L0.107 0.463L0.285 0.575Z" style="fill:#1c1c1c"/><path transform="translate(1265.68 1218.5) scale(29 -30.305)" d="M0.285 0L0.379 0L0.379 0.703L0.3 0.703L0.107 0.545L0.107 0.463L0.285 0.575Z" style="fill:#1c1c1c"/>
<polyline clip-path="url(#cfR)" points="1160.07,1162.3 1166.43,1147.99 1172.52,1156.47 1178.35,1141.89 1184.45,1138.71 1190.28,1125.2 1196.37,1129.97 1202.2,1129.97 1207.76,1133.15 1213.59,1108.24 1219.42,1105.59 1225.25,1076.98 1231.35,1071.68 1237.18,1106.92 1243,1106.12 1248.83,1093.4 1254.66,1088.37 1260.76,1076.98 1266.59,1079.1 1272.42,1054.45 1278.25,1045.98 1284.34,1023.45 1290.17,1002.25 1296,984.24 1301.83,928.06 1307.92,961.71 1313.75,1008.08 1319.58,1010.2 1325.41,1001.46 1331.51,972.31 1337.33,966.48 1343.16,956.41 1349.26,929.92 1355.17,869.77" fill="none" stroke="#0072BD" stroke-width="2.1" stroke-linejoin="round"/>
<g clip-path="url(#mcfR)"><circle cx="1160.07" cy="1162.3" r="3.0" fill="#0072BD"/><circle cx="1166.43" cy="1147.99" r="3.0" fill="#0072BD"/><circle cx="1172.52" cy="1156.47" r="3.0" fill="#0072BD"/><circle cx="1178.35" cy="1141.89" r="3.0" fill="#0072BD"/><circle cx="1184.45" cy="1138.71" r="3.0" fill="#0072BD"/><circle cx="1190.28" cy="1125.2" r="3.0" fill="#0072BD"/><circle cx="1196.37" cy="1129.97" r="3.0" fill="#0072BD"/><circle cx="1202.2" cy="1129.97" r="3.0" fill="#0072BD"/><circle cx="1207.76" cy="1133.15" r="3.0" fill="#0072BD"/><circle cx="1213.59" cy="1108.24" r="3.0" fill="#0072BD"/><circle cx="1219.42" cy="1105.59" r="3.0" fill="#0072BD"/><circle cx="1225.25" cy="1076.98" r="3.0" fill="#0072BD"/><circle cx="1231.35" cy="1071.68" r="3.0" fill="#0072BD"/><circle cx="1237.18" cy="1106.92" r="3.0" fill="#0072BD"/><circle cx="1243" cy="1106.12" r="3.0" fill="#0072BD"/><circle cx="1248.83" cy="1093.4" r="3.0" fill="#0072BD"/><circle cx="1254.66" cy="1088.37" r="3.0" fill="#0072BD"/><circle cx="1260.76" cy="1076.98" r="3.0" fill="#0072BD"/><circle cx="1266.59" cy="1079.1" r="3.0" fill="#0072BD"/><circle cx="1272.42" cy="1054.45" r="3.0" fill="#0072BD"/><circle cx="1278.25" cy="1045.98" r="3.0" fill="#0072BD"/><circle cx="1284.34" cy="1023.45" r="3.0" fill="#0072BD"/><circle cx="1290.17" cy="1002.25" r="3.0" fill="#0072BD"/><circle cx="1296" cy="984.24" r="3.0" fill="#0072BD"/><circle cx="1301.83" cy="928.06" r="3.0" fill="#0072BD"/><circle cx="1307.92" cy="961.71" r="3.0" fill="#0072BD"/><circle cx="1313.75" cy="1008.08" r="3.0" fill="#0072BD"/><circle cx="1319.58" cy="1010.2" r="3.0" fill="#0072BD"/><circle cx="1325.41" cy="1001.46" r="3.0" fill="#0072BD"/><circle cx="1331.51" cy="972.31" r="3.0" fill="#0072BD"/><circle cx="1337.33" cy="966.48" r="3.0" fill="#0072BD"/><circle cx="1343.16" cy="956.41" r="3.0" fill="#0072BD"/><circle cx="1349.26" cy="929.92" r="3.0" fill="#0072BD"/></g>
<polyline clip-path="url(#cfR)" points="1160.07,1149.84 1166.43,1149.05 1172.52,1129.18 1178.35,1149.84 1184.45,1132.62 1190.28,1130.77 1196.37,1137.13 1202.2,1129.97 1207.76,1109.57 1213.59,1091.02 1219.42,1089.43 1225.25,1084.4 1231.35,1072.21 1237.18,1094.2 1243,1111.95 1248.83,1093.4 1254.66,1055.78 1260.76,992.19 1266.59,1038.03 1272.42,1038.03 1278.25,1045.18 1284.34,1038.56 1290.17,1029.81" fill="none" stroke="#D95319" stroke-width="2.1" stroke-linejoin="round"/>
<g clip-path="url(#mcfR)"><circle cx="1160.07" cy="1149.84" r="3.0" fill="#D95319"/><circle cx="1166.43" cy="1149.05" r="3.0" fill="#D95319"/><circle cx="1172.52" cy="1129.18" r="3.0" fill="#D95319"/><circle cx="1178.35" cy="1149.84" r="3.0" fill="#D95319"/><circle cx="1184.45" cy="1132.62" r="3.0" fill="#D95319"/><circle cx="1190.28" cy="1130.77" r="3.0" fill="#D95319"/><circle cx="1196.37" cy="1137.13" r="3.0" fill="#D95319"/><circle cx="1202.2" cy="1129.97" r="3.0" fill="#D95319"/><circle cx="1207.76" cy="1109.57" r="3.0" fill="#D95319"/><circle cx="1213.59" cy="1091.02" r="3.0" fill="#D95319"/><circle cx="1219.42" cy="1089.43" r="3.0" fill="#D95319"/><circle cx="1225.25" cy="1084.4" r="3.0" fill="#D95319"/><circle cx="1231.35" cy="1072.21" r="3.0" fill="#D95319"/><circle cx="1237.18" cy="1094.2" r="3.0" fill="#D95319"/><circle cx="1243" cy="1111.95" r="3.0" fill="#D95319"/><circle cx="1248.83" cy="1093.4" r="3.0" fill="#D95319"/><circle cx="1254.66" cy="1055.78" r="3.0" fill="#D95319"/><circle cx="1260.76" cy="992.19" r="3.0" fill="#D95319"/><circle cx="1266.59" cy="1038.03" r="3.0" fill="#D95319"/><circle cx="1272.42" cy="1038.03" r="3.0" fill="#D95319"/><circle cx="1278.25" cy="1045.18" r="3.0" fill="#D95319"/><circle cx="1284.34" cy="1038.56" r="3.0" fill="#D95319"/><circle cx="1290.17" cy="1029.81" r="3.0" fill="#D95319"/></g>
<line x1="1171.2" y1="911.6" x2="1194.1" y2="911.6" stroke="#0072BD" stroke-width="2.1"/>
<circle cx="1182.65" cy="911.6" r="3.0" fill="#0072BD"/>
<text x="1194.67" y="917.2" font-size="16.2" fill="#000" style="fill:#000">FCI trion</text>
<line x1="1171.2" y1="931.1" x2="1194.1" y2="931.1" stroke="#D95319" stroke-width="2.1"/>
<circle cx="1182.65" cy="931.1" r="3.0" fill="#D95319"/>
<text x="1195.97" y="936.7" font-size="16.2" fill="#000" style="fill:#000">Anyon trion</text>
<text transform="translate(1181.6 1251.9) scale(1 1.0)" font-size="29.2">Energy (eV)</text>
<text transform="translate(1085.5 1116.7) rotate(-90) scale(1 1.0)" font-size="29.2">PL (kcounts)</text>
<text x="-1.28" y="26" font-size="33.5" font-weight="bold" style="fill:#000">a</text>
<text x="725.99" y="26" font-size="33.5" font-weight="bold" style="fill:#000">b</text>
<text x="-1.11" y="434.5" font-size="33.5" font-weight="bold" style="fill:#000">c</text>
<text x="726.03" y="424.7" font-size="33.5" font-weight="bold" style="fill:#000">d</text>
<text x="-1.11" y="864.6" font-size="33.5" font-weight="bold" style="fill:#000">e</text>
<text x="726.03" y="854.5" font-size="33.5" font-weight="bold" style="fill:#000">f</text>
<text x="179.62" y="18.4" font-size="28" style="font-family:'Liberation Serif',serif;font-style:italic;stroke:#1c1c1c;stroke-width:0.35px">ν</text>
<path d="M199.9 12.5C205.9 2.5 209.4 19 215.3 8.7" fill="none" stroke="#1c1c1c" stroke-width="1.55"/>
<text transform="translate(224 18.7) scale(1.06 1)" x="-1.09" y="0" font-size="24.5">-2/3</text>
<text x="500.02" y="18.4" font-size="28" style="font-family:'Liberation Serif',serif;font-style:italic;stroke:#1c1c1c;stroke-width:0.35px">ν</text>
<path d="M520.3 12.5C526.3 2.5 529.8 19 535.7 8.7" fill="none" stroke="#1c1c1c" stroke-width="1.55"/>
<text transform="translate(544.4 18.7) scale(1.06 1)" x="-1.09" y="0" font-size="24.5">-3/5</text>
<text x="885.02" y="18.4" font-size="28" style="font-family:'Liberation Serif',serif;font-style:italic;stroke:#1c1c1c;stroke-width:0.35px">ν</text>
<path d="M905.3 12.5C911.3 2.5 914.8 19 920.7 8.7" fill="none" stroke="#1c1c1c" stroke-width="1.55"/>
<text transform="translate(929.4 18.7) scale(1.06 1)" x="-1.09" y="0" font-size="24.5">-2/3</text>
<text x="1214.22" y="18.4" font-size="28" style="font-family:'Liberation Serif',serif;font-style:italic;stroke:#1c1c1c;stroke-width:0.35px">ν</text>
<path d="M1234.5 12.5C1240.5 2.5 1244 19 1249.9 8.7" fill="none" stroke="#1c1c1c" stroke-width="1.55"/>
<text transform="translate(1258.6 18.7) scale(1.06 1)" x="-1.09" y="0" font-size="24.5">-3/5</text>
</svg>
</body></html>
